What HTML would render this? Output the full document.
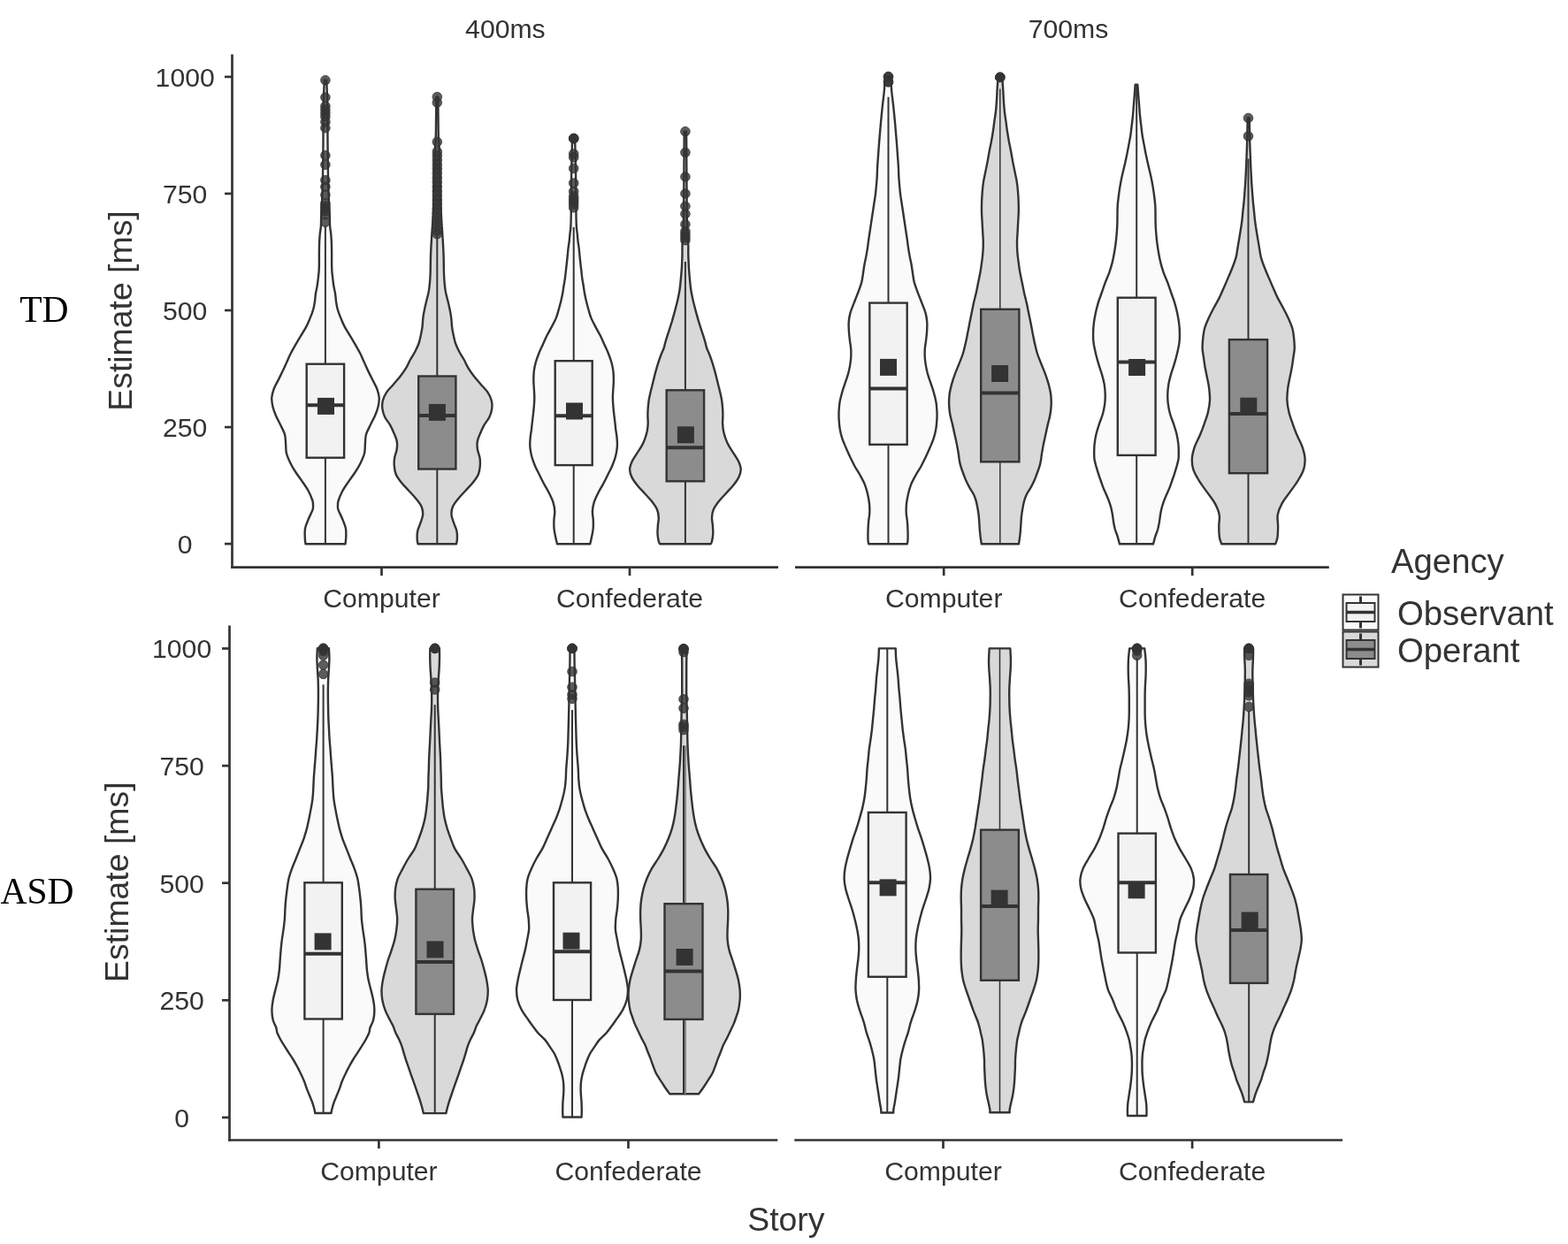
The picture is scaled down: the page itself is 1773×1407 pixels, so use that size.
<!DOCTYPE html>
<html><head><meta charset="utf-8"><title>Violin plot</title>
<style>html,body{margin:0;padding:0;background:#fff;}svg{display:block;}</style>
</head><body>
<svg width="1773" height="1407" viewBox="0 0 1773 1407">
<rect width="1773" height="1407" fill="#ffffff"/>
<line x1="262.5" y1="61.5" x2="262.5" y2="642.9" stroke="#333333" stroke-width="2.7" stroke-linecap="butt"/>
<line x1="261.2" y1="641.6" x2="880.0" y2="641.6" stroke="#333333" stroke-width="2.7" stroke-linecap="butt"/>
<line x1="899.0" y1="641.6" x2="1502.8" y2="641.6" stroke="#333333" stroke-width="2.7" stroke-linecap="butt"/>
<line x1="254.0" y1="615.1" x2="262.5" y2="615.1" stroke="#333333" stroke-width="2.7" stroke-linecap="butt"/>
<text x="209.2" y="626.0" font-family="'Liberation Sans', Arial, sans-serif" font-size="30.2" fill="#333333" text-anchor="middle" >0</text>
<line x1="254.0" y1="483.1" x2="262.5" y2="483.1" stroke="#333333" stroke-width="2.7" stroke-linecap="butt"/>
<text x="209.2" y="493.9" font-family="'Liberation Sans', Arial, sans-serif" font-size="30.2" fill="#333333" text-anchor="middle" >250</text>
<line x1="254.0" y1="351.0" x2="262.5" y2="351.0" stroke="#333333" stroke-width="2.7" stroke-linecap="butt"/>
<text x="209.2" y="361.9" font-family="'Liberation Sans', Arial, sans-serif" font-size="30.2" fill="#333333" text-anchor="middle" >500</text>
<line x1="254.0" y1="219.0" x2="262.5" y2="219.0" stroke="#333333" stroke-width="2.7" stroke-linecap="butt"/>
<text x="209.2" y="229.9" font-family="'Liberation Sans', Arial, sans-serif" font-size="30.2" fill="#333333" text-anchor="middle" >750</text>
<line x1="254.0" y1="86.9" x2="262.5" y2="86.9" stroke="#333333" stroke-width="2.7" stroke-linecap="butt"/>
<text x="209.2" y="97.8" font-family="'Liberation Sans', Arial, sans-serif" font-size="30.2" fill="#333333" text-anchor="middle" >1000</text>
<line x1="431.5" y1="641.6" x2="431.5" y2="651.1" stroke="#333333" stroke-width="2.7" stroke-linecap="butt"/>
<text x="431.5" y="686.6" font-family="'Liberation Sans', Arial, sans-serif" font-size="30.2" fill="#333333" text-anchor="middle" >Computer</text>
<line x1="712.0" y1="641.6" x2="712.0" y2="651.1" stroke="#333333" stroke-width="2.7" stroke-linecap="butt"/>
<text x="712.0" y="686.6" font-family="'Liberation Sans', Arial, sans-serif" font-size="30.2" fill="#333333" text-anchor="middle" >Confederate</text>
<line x1="1067.2" y1="641.6" x2="1067.2" y2="651.1" stroke="#333333" stroke-width="2.7" stroke-linecap="butt"/>
<text x="1067.2" y="686.6" font-family="'Liberation Sans', Arial, sans-serif" font-size="30.2" fill="#333333" text-anchor="middle" >Computer</text>
<line x1="1348.2" y1="641.6" x2="1348.2" y2="651.1" stroke="#333333" stroke-width="2.7" stroke-linecap="butt"/>
<text x="1348.2" y="686.6" font-family="'Liberation Sans', Arial, sans-serif" font-size="30.2" fill="#333333" text-anchor="middle" >Confederate</text>
<line x1="259.5" y1="707.4" x2="259.5" y2="1290.8" stroke="#333333" stroke-width="2.7" stroke-linecap="butt"/>
<line x1="258.2" y1="1289.5" x2="879.3" y2="1289.5" stroke="#333333" stroke-width="2.7" stroke-linecap="butt"/>
<line x1="898.3" y1="1289.5" x2="1518.0" y2="1289.5" stroke="#333333" stroke-width="2.7" stroke-linecap="butt"/>
<line x1="251.0" y1="1263.9" x2="259.5" y2="1263.9" stroke="#333333" stroke-width="2.7" stroke-linecap="butt"/>
<text x="205.6" y="1274.8" font-family="'Liberation Sans', Arial, sans-serif" font-size="30.2" fill="#333333" text-anchor="middle" >0</text>
<line x1="251.0" y1="1131.3" x2="259.5" y2="1131.3" stroke="#333333" stroke-width="2.7" stroke-linecap="butt"/>
<text x="205.6" y="1142.2" font-family="'Liberation Sans', Arial, sans-serif" font-size="30.2" fill="#333333" text-anchor="middle" >250</text>
<line x1="251.0" y1="998.7" x2="259.5" y2="998.7" stroke="#333333" stroke-width="2.7" stroke-linecap="butt"/>
<text x="205.6" y="1009.6" font-family="'Liberation Sans', Arial, sans-serif" font-size="30.2" fill="#333333" text-anchor="middle" >500</text>
<line x1="251.0" y1="866.1" x2="259.5" y2="866.1" stroke="#333333" stroke-width="2.7" stroke-linecap="butt"/>
<text x="205.6" y="877.0" font-family="'Liberation Sans', Arial, sans-serif" font-size="30.2" fill="#333333" text-anchor="middle" >750</text>
<line x1="251.0" y1="733.5" x2="259.5" y2="733.5" stroke="#333333" stroke-width="2.7" stroke-linecap="butt"/>
<text x="205.6" y="744.4" font-family="'Liberation Sans', Arial, sans-serif" font-size="30.2" fill="#333333" text-anchor="middle" >1000</text>
<line x1="428.4" y1="1289.5" x2="428.4" y2="1299.0" stroke="#333333" stroke-width="2.7" stroke-linecap="butt"/>
<text x="428.4" y="1335.0" font-family="'Liberation Sans', Arial, sans-serif" font-size="30.2" fill="#333333" text-anchor="middle" >Computer</text>
<line x1="710.5" y1="1289.5" x2="710.5" y2="1299.0" stroke="#333333" stroke-width="2.7" stroke-linecap="butt"/>
<text x="710.5" y="1335.0" font-family="'Liberation Sans', Arial, sans-serif" font-size="30.2" fill="#333333" text-anchor="middle" >Confederate</text>
<line x1="1066.5" y1="1289.5" x2="1066.5" y2="1299.0" stroke="#333333" stroke-width="2.7" stroke-linecap="butt"/>
<text x="1066.5" y="1335.0" font-family="'Liberation Sans', Arial, sans-serif" font-size="30.2" fill="#333333" text-anchor="middle" >Computer</text>
<line x1="1348.1" y1="1289.5" x2="1348.1" y2="1299.0" stroke="#333333" stroke-width="2.7" stroke-linecap="butt"/>
<text x="1348.1" y="1335.0" font-family="'Liberation Sans', Arial, sans-serif" font-size="30.2" fill="#333333" text-anchor="middle" >Confederate</text>
<path d="M366.8,90.7 C366.7,93.9 366.2,103.5 366.0,110.0 C365.8,116.5 365.6,121.7 365.5,130.0 C365.4,138.3 365.6,148.3 365.5,160.0 C365.4,171.7 365.2,188.3 365.0,200.0 C364.8,211.7 364.3,222.5 364.0,230.0 C363.7,237.5 363.4,240.7 363.2,245.0 C363.0,249.3 363.1,252.4 362.9,255.6 C362.7,258.8 362.1,261.3 361.8,264.1 C361.5,266.9 361.4,269.1 361.2,272.6 C361.0,276.1 360.9,280.7 360.9,285.0 C360.8,289.3 360.9,294.6 360.9,298.2 C360.8,301.8 360.8,303.9 360.6,306.8 C360.4,309.7 360.0,312.5 359.7,315.3 C359.4,318.1 359.1,321.0 358.6,323.8 C358.1,326.6 357.3,329.5 356.9,332.3 C356.5,335.1 356.4,337.9 356.0,340.9 C355.6,343.8 355.1,346.8 354.2,350.0 C353.3,353.2 352.0,356.6 350.6,359.9 C349.2,363.2 347.9,366.6 346.1,369.9 C344.4,373.2 342.1,376.5 340.1,379.8 C338.1,383.1 336.1,386.5 334.2,389.8 C332.3,393.1 330.4,396.4 328.7,399.7 C327.0,403.0 325.7,406.4 324.2,409.7 C322.7,413.0 321.3,416.3 319.7,419.6 C318.1,422.9 316.4,426.3 314.8,429.6 C313.2,432.9 311.1,436.2 309.8,439.5 C308.6,442.8 307.6,446.2 307.3,449.5 C307.1,452.8 307.5,456.0 308.3,459.4 C309.1,462.8 310.4,466.4 311.9,470.0 C313.4,473.6 315.5,477.1 317.2,480.7 C318.9,484.2 321.0,487.8 322.0,491.3 C323.0,494.9 322.8,498.4 323.1,502.0 C323.4,505.6 323.1,509.1 323.9,512.6 C324.7,516.1 326.4,519.7 328.1,523.3 C329.8,526.9 332.0,530.5 334.3,534.0 C336.6,537.5 339.4,541.1 341.8,544.6 C344.2,548.1 346.8,551.7 348.7,555.3 C350.6,558.9 352.4,563.3 353.3,566.0 C354.2,568.7 354.0,569.5 354.0,571.3 C354.0,573.1 354.4,573.9 353.5,576.6 C352.6,579.3 350.1,583.8 348.7,587.3 C347.3,590.8 345.6,594.3 345.0,597.9 C344.4,601.5 344.7,605.7 344.8,608.6 C344.9,611.5 345.4,614.2 345.5,615.3 L390.5,615.3 C390.6,614.2 391.1,611.5 391.2,608.6 C391.3,605.7 391.6,601.5 391.0,597.9 C390.4,594.3 388.7,590.8 387.3,587.3 C385.9,583.8 383.4,579.3 382.5,576.6 C381.6,573.9 382.0,573.1 382.0,571.3 C382.0,569.5 381.8,568.7 382.7,566.0 C383.6,563.3 385.4,558.9 387.3,555.3 C389.2,551.7 391.8,548.1 394.2,544.6 C396.6,541.1 399.4,537.5 401.7,534.0 C404.0,530.5 406.2,526.9 407.9,523.3 C409.6,519.7 411.3,516.1 412.1,512.6 C412.9,509.1 412.6,505.6 412.9,502.0 C413.2,498.4 413.0,494.9 414.0,491.3 C415.0,487.8 417.1,484.2 418.8,480.7 C420.5,477.1 422.6,473.6 424.1,470.0 C425.6,466.4 426.9,462.8 427.7,459.4 C428.5,456.0 428.9,452.8 428.7,449.5 C428.4,446.2 427.4,442.8 426.2,439.5 C424.9,436.2 422.8,432.9 421.2,429.6 C419.6,426.3 417.9,422.9 416.3,419.6 C414.7,416.3 413.3,413.0 411.8,409.7 C410.3,406.4 409.0,403.0 407.3,399.7 C405.6,396.4 403.7,393.1 401.8,389.8 C399.9,386.5 397.9,383.1 395.9,379.8 C393.9,376.5 391.6,373.2 389.9,369.9 C388.1,366.6 386.8,363.2 385.4,359.9 C384.0,356.6 382.7,353.2 381.8,350.0 C380.9,346.8 380.4,343.8 380.0,340.9 C379.6,337.9 379.5,335.1 379.1,332.3 C378.7,329.5 377.9,326.6 377.4,323.8 C376.9,321.0 376.6,318.1 376.3,315.3 C376.0,312.5 375.6,309.7 375.4,306.8 C375.2,303.9 375.2,301.8 375.1,298.2 C375.1,294.6 375.2,289.3 375.1,285.0 C375.1,280.7 375.0,276.1 374.8,272.6 C374.6,269.1 374.5,266.9 374.2,264.1 C373.9,261.3 373.3,258.8 373.1,255.6 C372.9,252.4 373.0,249.3 372.8,245.0 C372.6,240.7 372.3,237.5 372.0,230.0 C371.7,222.5 371.2,211.7 371.0,200.0 C370.8,188.3 370.6,171.7 370.5,160.0 C370.4,148.3 370.6,138.3 370.5,130.0 C370.4,121.7 370.2,116.5 370.0,110.0 C369.8,103.5 369.3,93.9 369.2,90.7 Z" fill="#fafafa" stroke="#333333" stroke-width="2.4" stroke-linejoin="round"/>
<line x1="367.9" y1="255.5" x2="367.9" y2="411.7" stroke="#333333" stroke-width="2.0"/>
<line x1="367.9" y1="517.7" x2="367.9" y2="615.3" stroke="#333333" stroke-width="2.0"/>
<rect x="346.7" y="411.7" width="42.4" height="106.0" fill="#f2f2f2" stroke="#333333" stroke-width="2.4"/>
<line x1="346.7" y1="458.3" x2="389.1" y2="458.3" stroke="#333333" stroke-width="4"/>
<circle cx="367.9" cy="90.7" r="5.3" fill="#333333" fill-opacity="0.8" stroke="#333333" stroke-width="0.8"/>
<circle cx="367.9" cy="110.1" r="5.3" fill="#333333" fill-opacity="0.8" stroke="#333333" stroke-width="0.8"/>
<circle cx="367.9" cy="120.0" r="5.3" fill="#333333" fill-opacity="0.8" stroke="#333333" stroke-width="0.8"/>
<circle cx="367.9" cy="124.0" r="5.3" fill="#333333" fill-opacity="0.8" stroke="#333333" stroke-width="0.8"/>
<circle cx="367.9" cy="128.0" r="5.3" fill="#333333" fill-opacity="0.8" stroke="#333333" stroke-width="0.8"/>
<circle cx="367.9" cy="132.0" r="5.3" fill="#333333" fill-opacity="0.8" stroke="#333333" stroke-width="0.8"/>
<circle cx="367.9" cy="137.9" r="5.3" fill="#333333" fill-opacity="0.8" stroke="#333333" stroke-width="0.8"/>
<circle cx="367.9" cy="144.7" r="5.3" fill="#333333" fill-opacity="0.8" stroke="#333333" stroke-width="0.8"/>
<circle cx="367.9" cy="175.8" r="5.3" fill="#333333" fill-opacity="0.8" stroke="#333333" stroke-width="0.8"/>
<circle cx="367.9" cy="186.3" r="5.3" fill="#333333" fill-opacity="0.8" stroke="#333333" stroke-width="0.8"/>
<circle cx="367.9" cy="203.8" r="5.3" fill="#333333" fill-opacity="0.8" stroke="#333333" stroke-width="0.8"/>
<circle cx="367.9" cy="211.2" r="5.3" fill="#333333" fill-opacity="0.8" stroke="#333333" stroke-width="0.8"/>
<circle cx="367.9" cy="220.5" r="5.3" fill="#333333" fill-opacity="0.8" stroke="#333333" stroke-width="0.8"/>
<circle cx="367.9" cy="230.0" r="5.3" fill="#333333" fill-opacity="0.8" stroke="#333333" stroke-width="0.8"/>
<circle cx="367.9" cy="233.0" r="5.3" fill="#333333" fill-opacity="0.8" stroke="#333333" stroke-width="0.8"/>
<circle cx="367.9" cy="236.0" r="5.3" fill="#333333" fill-opacity="0.8" stroke="#333333" stroke-width="0.8"/>
<circle cx="367.9" cy="239.0" r="5.3" fill="#333333" fill-opacity="0.8" stroke="#333333" stroke-width="0.8"/>
<circle cx="367.9" cy="242.7" r="5.3" fill="#333333" fill-opacity="0.8" stroke="#333333" stroke-width="0.8"/>
<circle cx="367.9" cy="251.3" r="5.3" fill="#333333" fill-opacity="0.8" stroke="#333333" stroke-width="0.8"/>
<rect x="359.0" y="449.9" width="19" height="19" fill="#333333"/>
<path d="M493.3,109.6 C493.3,113.0 493.2,122.6 493.1,130.0 C493.0,137.4 493.0,147.3 492.8,154.0 C492.6,160.7 492.1,162.3 491.8,170.0 C491.5,177.7 491.2,190.0 491.0,200.0 C490.8,210.0 490.6,221.7 490.3,230.0 C490.0,238.3 489.7,243.3 489.3,250.0 C488.9,256.6 488.4,263.3 488.0,269.9 C487.6,276.5 487.2,283.2 487.0,289.8 C486.8,296.4 486.8,304.7 486.6,309.7 C486.4,314.7 486.3,316.3 486.0,319.6 C485.7,322.9 485.4,326.3 484.8,329.6 C484.2,332.9 483.2,336.2 482.4,339.5 C481.6,342.8 480.8,346.2 480.1,349.5 C479.4,352.8 478.8,356.0 478.4,359.4 C478.0,362.8 477.9,366.7 477.5,370.0 C477.1,373.3 476.5,376.1 475.8,379.2 C475.1,382.3 474.6,385.4 473.5,388.5 C472.4,391.6 470.9,394.6 469.3,397.7 C467.7,400.8 465.5,403.9 463.8,407.0 C462.1,410.1 461.1,413.1 459.2,416.2 C457.3,419.3 455.1,422.4 452.7,425.5 C450.3,428.6 447.5,431.6 444.9,434.7 C442.3,437.8 439.0,440.8 437.0,443.9 C435.0,447.0 433.6,450.1 432.8,453.2 C432.0,456.3 432.0,459.3 432.4,462.4 C432.8,465.5 433.7,468.6 435.2,471.7 C436.7,474.8 439.5,477.8 441.2,480.9 C442.9,483.9 444.2,486.9 445.5,490.0 C446.8,493.1 448.3,496.1 448.8,499.2 C449.3,502.3 449.1,505.4 448.6,508.5 C448.2,511.6 446.6,514.6 446.1,517.7 C445.6,520.8 445.6,523.9 445.8,527.0 C446.1,530.1 446.3,533.1 447.6,536.2 C448.9,539.3 451.2,542.4 453.6,545.5 C456.0,548.6 459.2,551.6 462.0,554.7 C464.8,557.8 467.9,560.8 470.3,563.9 C472.8,567.0 475.4,570.1 476.7,573.2 C478.0,576.3 478.3,579.3 478.1,582.4 C477.9,585.5 476.4,588.6 475.4,591.7 C474.4,594.8 472.7,597.8 472.1,600.9 C471.5,604.0 471.6,607.7 471.7,610.1 C471.8,612.5 472.5,614.4 472.6,615.3 L516.0,615.3 C516.1,614.4 516.8,612.5 516.9,610.1 C517.0,607.7 517.1,604.0 516.5,600.9 C515.9,597.8 514.2,594.8 513.2,591.7 C512.2,588.6 510.7,585.5 510.5,582.4 C510.3,579.3 510.6,576.3 511.9,573.2 C513.2,570.1 515.8,567.0 518.3,563.9 C520.8,560.8 523.8,557.8 526.6,554.7 C529.4,551.6 532.6,548.6 535.0,545.5 C537.4,542.4 539.7,539.3 541.0,536.2 C542.3,533.1 542.5,530.1 542.8,527.0 C543.0,523.9 543.0,520.8 542.5,517.7 C542.0,514.6 540.5,511.6 540.0,508.5 C539.5,505.4 539.3,502.3 539.8,499.2 C540.3,496.1 541.8,493.1 543.1,490.0 C544.4,486.9 545.7,483.9 547.4,480.9 C549.1,477.8 551.9,474.8 553.4,471.7 C554.9,468.6 555.8,465.5 556.2,462.4 C556.6,459.3 556.6,456.3 555.8,453.2 C555.0,450.1 553.6,447.0 551.6,443.9 C549.6,440.8 546.3,437.8 543.7,434.7 C541.1,431.6 538.3,428.6 535.9,425.5 C533.5,422.4 531.2,419.3 529.4,416.2 C527.5,413.1 526.5,410.1 524.8,407.0 C523.1,403.9 520.9,400.8 519.3,397.7 C517.7,394.6 516.2,391.6 515.1,388.5 C514.0,385.4 513.5,382.3 512.8,379.2 C512.1,376.1 511.5,373.3 511.1,370.0 C510.7,366.7 510.6,362.8 510.2,359.4 C509.8,356.0 509.2,352.8 508.5,349.5 C507.8,346.2 507.0,342.8 506.2,339.5 C505.4,336.2 504.4,332.9 503.8,329.6 C503.2,326.3 502.9,322.9 502.6,319.6 C502.3,316.3 502.2,314.7 502.0,309.7 C501.8,304.7 501.8,296.4 501.6,289.8 C501.4,283.2 501.0,276.5 500.6,269.9 C500.2,263.3 499.7,256.6 499.3,250.0 C498.9,243.3 498.6,238.3 498.3,230.0 C498.0,221.7 497.9,210.0 497.6,200.0 C497.4,190.0 497.1,177.7 496.8,170.0 C496.5,162.3 496.0,160.7 495.8,154.0 C495.6,147.3 495.6,137.4 495.5,130.0 C495.4,122.6 495.3,113.0 495.3,109.6 Z" fill="#d9d9d9" stroke="#333333" stroke-width="2.4" stroke-linejoin="round"/>
<line x1="494.3" y1="267.0" x2="494.3" y2="425.5" stroke="#333333" stroke-width="2.0"/>
<line x1="494.3" y1="530.5" x2="494.3" y2="615.3" stroke="#333333" stroke-width="2.0"/>
<rect x="473.2" y="425.5" width="42.2" height="105.0" fill="#8c8c8c" stroke="#333333" stroke-width="2.4"/>
<line x1="473.2" y1="469.9" x2="515.4" y2="469.9" stroke="#333333" stroke-width="4"/>
<circle cx="494.3" cy="109.6" r="5.3" fill="#333333" fill-opacity="0.8" stroke="#333333" stroke-width="0.8"/>
<circle cx="494.3" cy="116.0" r="5.3" fill="#333333" fill-opacity="0.8" stroke="#333333" stroke-width="0.8"/>
<circle cx="494.3" cy="160.4" r="5.3" fill="#333333" fill-opacity="0.8" stroke="#333333" stroke-width="0.8"/>
<circle cx="494.3" cy="171.5" r="5.3" fill="#333333" fill-opacity="0.8" stroke="#333333" stroke-width="0.8"/>
<circle cx="494.3" cy="176.0" r="5.3" fill="#333333" fill-opacity="0.8" stroke="#333333" stroke-width="0.8"/>
<circle cx="494.3" cy="181.0" r="5.3" fill="#333333" fill-opacity="0.8" stroke="#333333" stroke-width="0.8"/>
<circle cx="494.3" cy="186.0" r="5.3" fill="#333333" fill-opacity="0.8" stroke="#333333" stroke-width="0.8"/>
<circle cx="494.3" cy="191.0" r="5.3" fill="#333333" fill-opacity="0.8" stroke="#333333" stroke-width="0.8"/>
<circle cx="494.3" cy="196.0" r="5.3" fill="#333333" fill-opacity="0.8" stroke="#333333" stroke-width="0.8"/>
<circle cx="494.3" cy="201.0" r="5.3" fill="#333333" fill-opacity="0.8" stroke="#333333" stroke-width="0.8"/>
<circle cx="494.3" cy="206.0" r="5.3" fill="#333333" fill-opacity="0.8" stroke="#333333" stroke-width="0.8"/>
<circle cx="494.3" cy="211.0" r="5.3" fill="#333333" fill-opacity="0.8" stroke="#333333" stroke-width="0.8"/>
<circle cx="494.3" cy="216.0" r="5.3" fill="#333333" fill-opacity="0.8" stroke="#333333" stroke-width="0.8"/>
<circle cx="494.3" cy="221.0" r="5.3" fill="#333333" fill-opacity="0.8" stroke="#333333" stroke-width="0.8"/>
<circle cx="494.3" cy="226.0" r="5.3" fill="#333333" fill-opacity="0.8" stroke="#333333" stroke-width="0.8"/>
<circle cx="494.3" cy="231.0" r="5.3" fill="#333333" fill-opacity="0.8" stroke="#333333" stroke-width="0.8"/>
<circle cx="494.3" cy="236.0" r="5.3" fill="#333333" fill-opacity="0.8" stroke="#333333" stroke-width="0.8"/>
<circle cx="494.3" cy="241.0" r="5.3" fill="#333333" fill-opacity="0.8" stroke="#333333" stroke-width="0.8"/>
<circle cx="494.3" cy="246.0" r="5.3" fill="#333333" fill-opacity="0.8" stroke="#333333" stroke-width="0.8"/>
<circle cx="494.3" cy="251.0" r="5.3" fill="#333333" fill-opacity="0.8" stroke="#333333" stroke-width="0.8"/>
<circle cx="494.3" cy="256.0" r="5.3" fill="#333333" fill-opacity="0.8" stroke="#333333" stroke-width="0.8"/>
<circle cx="494.3" cy="261.0" r="5.3" fill="#333333" fill-opacity="0.8" stroke="#333333" stroke-width="0.8"/>
<circle cx="494.3" cy="264.8" r="5.3" fill="#333333" fill-opacity="0.8" stroke="#333333" stroke-width="0.8"/>
<rect x="484.9" y="456.9" width="19" height="19" fill="#333333"/>
<path d="M647.1,156.6 C647.0,159.7 646.8,167.8 646.6,175.0 C646.4,182.2 646.2,189.4 646.1,200.0 C646.0,210.6 645.9,229.2 645.8,238.5 C645.7,247.8 645.6,251.3 645.4,255.6 C645.2,259.9 644.8,261.3 644.5,264.1 C644.2,266.9 644.0,269.8 643.7,272.6 C643.4,275.5 642.8,278.4 642.5,281.2 C642.2,284.0 642.0,286.9 641.7,289.7 C641.4,292.5 641.1,295.3 640.8,298.2 C640.5,301.1 640.1,303.9 639.8,306.8 C639.5,309.7 639.2,312.5 638.8,315.3 C638.4,318.1 637.9,321.0 637.4,323.8 C636.9,326.6 636.6,329.5 636.1,332.3 C635.6,335.1 635.0,337.6 634.3,340.5 C633.6,343.4 632.7,346.8 631.8,350.0 C630.9,353.2 630.1,356.6 628.7,359.9 C627.4,363.2 625.4,366.6 623.7,369.9 C622.0,373.2 620.0,376.5 618.3,379.8 C616.7,383.1 615.3,386.5 613.8,389.8 C612.3,393.1 610.6,396.4 609.3,399.7 C608.0,403.0 606.7,406.4 605.8,409.7 C604.9,413.0 604.2,416.3 603.8,419.6 C603.4,422.9 603.3,426.3 603.3,429.6 C603.3,432.9 603.6,436.2 603.8,439.5 C604.0,442.8 604.3,446.2 604.3,449.5 C604.3,452.8 604.1,456.1 603.8,459.4 C603.6,462.7 603.2,466.1 602.8,469.4 C602.4,472.7 601.9,476.6 601.6,479.3 C601.3,482.0 601.3,482.6 601.0,485.3 C600.7,488.0 599.9,492.2 599.6,495.6 C599.3,499.0 599.1,502.5 599.4,505.9 C599.7,509.3 600.3,512.8 601.2,516.2 C602.1,519.6 603.4,523.0 604.8,526.5 C606.2,530.0 608.2,533.4 609.9,536.9 C611.6,540.4 613.3,543.8 615.1,547.2 C616.9,550.6 619.1,554.1 620.8,557.5 C622.5,560.9 624.3,564.4 625.4,567.8 C626.5,571.2 627.1,574.7 627.3,578.1 C627.5,581.5 626.5,585.0 626.4,588.4 C626.3,591.8 626.2,595.3 626.6,598.7 C627.0,602.1 627.9,606.2 628.5,609.0 C629.1,611.8 629.8,614.2 630.0,615.3 L667.2,615.3 C667.5,614.2 668.1,611.8 668.7,609.0 C669.3,606.2 670.2,602.1 670.6,598.7 C671.0,595.3 670.9,591.8 670.8,588.4 C670.7,585.0 669.7,581.5 669.9,578.1 C670.1,574.7 670.7,571.2 671.8,567.8 C672.9,564.4 674.7,560.9 676.4,557.5 C678.1,554.1 680.3,550.6 682.1,547.2 C683.9,543.8 685.6,540.4 687.3,536.9 C689.0,533.4 691.0,530.0 692.4,526.5 C693.8,523.0 695.1,519.6 696.0,516.2 C696.9,512.8 697.5,509.3 697.8,505.9 C698.1,502.5 697.9,499.0 697.6,495.6 C697.3,492.2 696.5,488.0 696.2,485.3 C695.9,482.6 695.9,482.0 695.6,479.3 C695.3,476.6 694.8,472.7 694.4,469.4 C694.0,466.1 693.6,462.7 693.4,459.4 C693.1,456.1 692.9,452.8 692.9,449.5 C692.9,446.2 693.2,442.8 693.4,439.5 C693.6,436.2 693.9,432.9 693.9,429.6 C693.9,426.3 693.8,422.9 693.4,419.6 C693.0,416.3 692.3,413.0 691.4,409.7 C690.5,406.4 689.2,403.0 687.9,399.7 C686.6,396.4 684.9,393.1 683.4,389.8 C681.9,386.5 680.5,383.1 678.9,379.8 C677.2,376.5 675.2,373.2 673.5,369.9 C671.8,366.6 669.9,363.2 668.5,359.9 C667.1,356.6 666.3,353.2 665.4,350.0 C664.5,346.8 663.6,343.4 662.9,340.5 C662.2,337.6 661.6,335.1 661.1,332.3 C660.6,329.5 660.3,326.6 659.8,323.8 C659.4,321.0 658.8,318.1 658.4,315.3 C658.0,312.5 657.7,309.7 657.4,306.8 C657.1,303.9 656.7,301.1 656.4,298.2 C656.1,295.3 655.8,292.5 655.5,289.7 C655.2,286.9 655.0,284.0 654.7,281.2 C654.4,278.4 653.8,275.5 653.5,272.6 C653.2,269.8 653.0,266.9 652.7,264.1 C652.4,261.3 652.0,259.9 651.8,255.6 C651.6,251.3 651.5,247.8 651.4,238.5 C651.3,229.2 651.2,210.6 651.1,200.0 C651.0,189.4 650.8,182.2 650.6,175.0 C650.4,167.8 650.2,159.7 650.1,156.6 Z" fill="#fafafa" stroke="#333333" stroke-width="2.4" stroke-linejoin="round"/>
<line x1="648.7" y1="256.9" x2="648.7" y2="408.2" stroke="#333333" stroke-width="2.0"/>
<line x1="648.7" y1="526.1" x2="648.7" y2="615.3" stroke="#333333" stroke-width="2.0"/>
<rect x="627.7" y="408.2" width="42.0" height="117.9" fill="#f2f2f2" stroke="#333333" stroke-width="2.4"/>
<line x1="627.7" y1="470.3" x2="669.7" y2="470.3" stroke="#333333" stroke-width="4"/>
<circle cx="648.7" cy="156.6" r="5.3" fill="#333333" fill-opacity="0.8" stroke="#333333" stroke-width="0.8"/>
<circle cx="648.7" cy="156.6" r="5.3" fill="#333333" fill-opacity="0.8" stroke="#333333" stroke-width="0.8"/>
<circle cx="648.7" cy="156.6" r="5.3" fill="#333333" fill-opacity="0.8" stroke="#333333" stroke-width="0.8"/>
<circle cx="648.7" cy="174.0" r="5.3" fill="#333333" fill-opacity="0.8" stroke="#333333" stroke-width="0.8"/>
<circle cx="648.7" cy="177.9" r="5.3" fill="#333333" fill-opacity="0.8" stroke="#333333" stroke-width="0.8"/>
<circle cx="648.7" cy="190.5" r="5.3" fill="#333333" fill-opacity="0.8" stroke="#333333" stroke-width="0.8"/>
<circle cx="648.7" cy="207.1" r="5.3" fill="#333333" fill-opacity="0.8" stroke="#333333" stroke-width="0.8"/>
<circle cx="648.7" cy="216.6" r="5.3" fill="#333333" fill-opacity="0.8" stroke="#333333" stroke-width="0.8"/>
<circle cx="648.7" cy="222.0" r="5.3" fill="#333333" fill-opacity="0.8" stroke="#333333" stroke-width="0.8"/>
<circle cx="648.7" cy="225.0" r="5.3" fill="#333333" fill-opacity="0.8" stroke="#333333" stroke-width="0.8"/>
<circle cx="648.7" cy="228.0" r="5.3" fill="#333333" fill-opacity="0.8" stroke="#333333" stroke-width="0.8"/>
<circle cx="648.7" cy="231.0" r="5.3" fill="#333333" fill-opacity="0.8" stroke="#333333" stroke-width="0.8"/>
<circle cx="648.7" cy="234.8" r="5.3" fill="#333333" fill-opacity="0.8" stroke="#333333" stroke-width="0.8"/>
<rect x="640.0" y="455.5" width="19" height="19" fill="#333333"/>
<path d="M773.7,148.7 C773.6,157.2 773.5,183.1 773.4,200.0 C773.3,216.9 773.1,238.2 772.9,250.0 C772.6,261.8 772.1,266.2 771.9,271.0 C771.7,275.8 771.6,275.8 771.5,278.5 C771.4,281.2 771.5,284.2 771.5,287.1 C771.5,290.0 771.3,292.8 771.2,295.6 C771.1,298.4 771.0,301.3 770.8,304.1 C770.6,306.9 770.4,309.8 770.1,312.6 C769.9,315.5 769.6,318.4 769.3,321.2 C769.0,324.0 768.7,326.9 768.2,329.7 C767.7,332.5 767.1,335.3 766.5,338.2 C765.9,341.1 765.1,343.9 764.4,346.8 C763.7,349.7 762.9,352.5 762.1,355.3 C761.3,358.1 760.5,361.0 759.7,363.8 C758.8,366.6 757.9,369.5 757.0,372.3 C756.1,375.1 755.0,378.3 754.2,380.9 C753.4,383.5 752.7,385.9 752.1,388.0 C751.5,390.1 751.5,391.2 750.7,393.5 C749.9,395.8 748.3,399.1 747.2,402.0 C746.1,404.9 745.1,407.8 744.2,410.6 C743.3,413.5 742.5,416.3 741.7,419.1 C740.9,421.9 740.2,424.8 739.5,427.6 C738.8,430.5 738.1,433.4 737.4,436.2 C736.7,439.0 735.9,441.9 735.3,444.7 C734.7,447.5 734.0,450.4 733.6,453.2 C733.2,456.0 732.9,458.8 732.7,461.7 C732.5,464.6 732.4,467.4 732.4,470.3 C732.4,473.2 732.8,476.0 732.7,478.8 C732.6,481.6 732.3,484.5 731.8,487.3 C731.2,490.1 730.4,493.0 729.4,495.8 C728.4,498.6 727.3,501.3 725.7,504.2 C724.1,507.1 721.9,510.1 720.0,513.1 C718.1,516.1 715.9,519.1 714.6,522.1 C713.3,525.1 712.1,528.1 712.1,531.1 C712.1,534.1 713.1,537.1 714.6,540.1 C716.1,543.1 718.5,546.2 720.9,549.2 C723.3,552.2 726.4,555.2 729.1,558.2 C731.8,561.2 734.9,564.2 737.2,567.2 C739.5,570.2 741.7,573.2 743.0,576.2 C744.3,579.2 744.6,582.3 744.8,585.3 C744.9,588.3 744.1,591.3 743.9,594.3 C743.7,597.3 743.4,600.3 743.5,603.3 C743.6,606.3 744.3,610.3 744.8,612.3 C745.2,614.3 746.0,614.8 746.2,615.3 L803.6,615.3 C803.8,614.8 804.5,614.3 805.0,612.3 C805.5,610.3 806.1,606.3 806.3,603.3 C806.4,600.3 806.1,597.3 805.9,594.3 C805.7,591.3 804.9,588.3 805.0,585.3 C805.1,582.3 805.5,579.2 806.8,576.2 C808.1,573.2 810.3,570.2 812.6,567.2 C814.9,564.2 818.0,561.2 820.7,558.2 C823.4,555.2 826.5,552.2 828.9,549.2 C831.3,546.2 833.7,543.1 835.2,540.1 C836.7,537.1 837.7,534.1 837.7,531.1 C837.7,528.1 836.5,525.1 835.2,522.1 C833.9,519.1 831.6,516.1 829.8,513.1 C827.9,510.1 825.7,507.1 824.1,504.2 C822.5,501.3 821.4,498.6 820.4,495.8 C819.4,493.0 818.5,490.1 818.0,487.3 C817.5,484.5 817.2,481.6 817.1,478.8 C817.0,476.0 817.4,473.2 817.4,470.3 C817.4,467.4 817.3,464.6 817.1,461.7 C816.9,458.8 816.6,456.0 816.2,453.2 C815.8,450.4 815.1,447.5 814.5,444.7 C813.9,441.9 813.1,439.0 812.4,436.2 C811.7,433.4 811.0,430.5 810.3,427.6 C809.6,424.8 808.9,421.9 808.1,419.1 C807.3,416.3 806.5,413.5 805.6,410.6 C804.7,407.8 803.7,404.9 802.6,402.0 C801.5,399.1 799.9,395.8 799.1,393.5 C798.3,391.2 798.3,390.1 797.7,388.0 C797.1,385.9 796.4,383.5 795.6,380.9 C794.8,378.3 793.7,375.1 792.8,372.3 C791.9,369.5 791.0,366.6 790.1,363.8 C789.2,361.0 788.5,358.1 787.7,355.3 C786.9,352.5 786.1,349.7 785.4,346.8 C784.7,343.9 783.9,341.1 783.3,338.2 C782.7,335.3 782.1,332.5 781.6,329.7 C781.1,326.9 780.8,324.0 780.5,321.2 C780.2,318.4 779.9,315.5 779.7,312.6 C779.4,309.8 779.2,306.9 779.0,304.1 C778.8,301.3 778.7,298.4 778.6,295.6 C778.5,292.8 778.3,290.0 778.3,287.1 C778.2,284.2 778.4,281.2 778.3,278.5 C778.2,275.8 778.1,275.8 777.9,271.0 C777.7,266.2 777.1,261.8 776.9,250.0 C776.6,238.2 776.5,216.9 776.4,200.0 C776.3,183.1 776.1,157.2 776.1,148.7 Z" fill="#d9d9d9" stroke="#333333" stroke-width="2.4" stroke-linejoin="round"/>
<line x1="774.9" y1="296.0" x2="774.9" y2="441.3" stroke="#333333" stroke-width="2.0"/>
<line x1="774.9" y1="544.3" x2="774.9" y2="615.3" stroke="#333333" stroke-width="2.0"/>
<rect x="753.7" y="441.3" width="42.4" height="103.0" fill="#8c8c8c" stroke="#333333" stroke-width="2.4"/>
<line x1="753.7" y1="506.2" x2="796.1" y2="506.2" stroke="#333333" stroke-width="4"/>
<circle cx="774.9" cy="148.7" r="5.3" fill="#333333" fill-opacity="0.8" stroke="#333333" stroke-width="0.8"/>
<circle cx="774.9" cy="172.4" r="5.3" fill="#333333" fill-opacity="0.8" stroke="#333333" stroke-width="0.8"/>
<circle cx="774.9" cy="200.0" r="5.3" fill="#333333" fill-opacity="0.8" stroke="#333333" stroke-width="0.8"/>
<circle cx="774.9" cy="219.0" r="5.3" fill="#333333" fill-opacity="0.8" stroke="#333333" stroke-width="0.8"/>
<circle cx="774.9" cy="233.2" r="5.3" fill="#333333" fill-opacity="0.8" stroke="#333333" stroke-width="0.8"/>
<circle cx="774.9" cy="241.9" r="5.3" fill="#333333" fill-opacity="0.8" stroke="#333333" stroke-width="0.8"/>
<circle cx="774.9" cy="253.7" r="5.3" fill="#333333" fill-opacity="0.8" stroke="#333333" stroke-width="0.8"/>
<circle cx="774.9" cy="261.6" r="5.3" fill="#333333" fill-opacity="0.8" stroke="#333333" stroke-width="0.8"/>
<circle cx="774.9" cy="265.0" r="5.3" fill="#333333" fill-opacity="0.8" stroke="#333333" stroke-width="0.8"/>
<circle cx="774.9" cy="268.5" r="5.3" fill="#333333" fill-opacity="0.8" stroke="#333333" stroke-width="0.8"/>
<circle cx="774.9" cy="271.7" r="5.3" fill="#333333" fill-opacity="0.8" stroke="#333333" stroke-width="0.8"/>
<rect x="765.9" y="482.3" width="19" height="19" fill="#333333"/>
<path d="M1000.5,86.5 C1000.5,88.2 1000.3,94.1 1000.2,97.0 C1000.1,99.9 1000.1,99.9 999.7,104.0 C999.3,108.1 998.3,115.6 997.7,121.4 C997.1,127.2 996.5,132.9 996.0,138.7 C995.5,144.5 995.0,150.3 994.5,156.1 C994.0,161.9 993.6,167.6 993.2,173.4 C992.8,179.2 992.2,186.3 992.0,190.7 C991.8,195.1 991.9,196.8 991.7,200.0 C991.5,203.2 991.2,206.7 990.9,210.0 C990.6,213.3 990.3,216.6 989.9,219.9 C989.5,223.2 988.9,226.6 988.4,229.9 C987.9,233.2 987.4,236.5 986.9,239.8 C986.4,243.1 985.9,246.5 985.4,249.8 C984.9,253.1 984.4,256.4 983.9,259.7 C983.4,263.0 982.9,266.4 982.4,269.7 C981.9,273.0 981.6,276.3 981.1,279.6 C980.6,282.9 980.0,286.3 979.4,289.6 C978.8,292.9 978.0,296.2 977.4,299.5 C976.8,302.8 976.4,306.2 975.9,309.5 C975.4,312.8 975.1,316.1 974.2,319.4 C973.4,322.7 972.0,326.1 970.8,329.4 C969.6,332.7 968.0,336.7 967.0,339.3 C966.0,341.9 965.7,342.4 964.7,345.0 C963.7,347.6 962.0,351.6 961.2,354.9 C960.4,358.2 959.9,361.6 959.7,364.9 C959.5,368.2 959.7,371.5 959.9,374.8 C960.1,378.1 960.5,381.5 960.9,384.8 C961.3,388.1 962.0,391.4 962.2,394.7 C962.4,398.0 962.4,401.4 962.2,404.7 C962.0,408.0 961.5,411.3 960.9,414.6 C960.3,417.9 959.5,421.3 958.5,424.6 C957.5,427.9 956.3,431.2 955.2,434.5 C954.1,437.8 952.9,441.2 952.0,444.5 C951.1,447.8 950.2,451.1 949.6,454.4 C949.0,457.7 948.8,461.1 948.6,464.4 C948.4,467.7 948.4,470.8 948.6,474.3 C948.8,477.8 949.1,481.8 949.7,485.4 C950.3,489.0 951.2,492.4 952.3,495.9 C953.4,499.4 955.0,502.8 956.5,506.3 C958.0,509.8 959.6,513.3 961.2,516.8 C962.9,520.3 964.5,523.7 966.4,527.2 C968.3,530.7 970.8,534.2 972.7,537.7 C974.6,541.2 976.5,544.6 977.9,548.1 C979.3,551.6 980.2,555.1 981.0,558.6 C981.8,562.1 982.5,565.5 982.9,569.0 C983.3,572.5 983.4,576.0 983.3,579.5 C983.2,583.0 982.4,586.4 982.1,589.9 C981.8,593.4 981.6,596.9 981.5,600.4 C981.4,603.9 981.4,608.3 981.5,610.8 C981.6,613.3 982.2,614.5 982.3,615.3 L1025.7,615.3 C1025.8,614.5 1026.4,613.3 1026.5,610.8 C1026.6,608.3 1026.6,603.9 1026.5,600.4 C1026.4,596.9 1026.2,593.4 1025.9,589.9 C1025.6,586.4 1024.8,583.0 1024.7,579.5 C1024.6,576.0 1024.7,572.5 1025.1,569.0 C1025.5,565.5 1026.2,562.1 1027.0,558.6 C1027.8,555.1 1028.7,551.6 1030.1,548.1 C1031.5,544.6 1033.4,541.2 1035.3,537.7 C1037.2,534.2 1039.7,530.7 1041.6,527.2 C1043.5,523.7 1045.1,520.3 1046.8,516.8 C1048.5,513.3 1050.0,509.8 1051.5,506.3 C1053.0,502.8 1054.6,499.4 1055.7,495.9 C1056.8,492.4 1057.7,489.0 1058.3,485.4 C1058.9,481.8 1059.2,477.8 1059.4,474.3 C1059.6,470.8 1059.6,467.7 1059.4,464.4 C1059.2,461.1 1059.0,457.7 1058.4,454.4 C1057.8,451.1 1056.9,447.8 1056.0,444.5 C1055.1,441.2 1053.9,437.8 1052.8,434.5 C1051.7,431.2 1050.5,427.9 1049.5,424.6 C1048.5,421.3 1047.7,417.9 1047.1,414.6 C1046.5,411.3 1046.0,408.0 1045.8,404.7 C1045.6,401.4 1045.6,398.0 1045.8,394.7 C1046.0,391.4 1046.7,388.1 1047.1,384.8 C1047.5,381.5 1047.9,378.1 1048.1,374.8 C1048.3,371.5 1048.5,368.2 1048.3,364.9 C1048.1,361.6 1047.6,358.2 1046.8,354.9 C1046.0,351.6 1044.3,347.6 1043.3,345.0 C1042.3,342.4 1042.0,341.9 1041.0,339.3 C1040.0,336.7 1038.4,332.7 1037.2,329.4 C1036.0,326.1 1034.7,322.7 1033.8,319.4 C1032.9,316.1 1032.6,312.8 1032.1,309.5 C1031.6,306.2 1031.2,302.8 1030.6,299.5 C1030.0,296.2 1029.2,292.9 1028.6,289.6 C1028.0,286.3 1027.4,282.9 1026.9,279.6 C1026.4,276.3 1026.1,273.0 1025.6,269.7 C1025.1,266.4 1024.6,263.0 1024.1,259.7 C1023.6,256.4 1023.1,253.1 1022.6,249.8 C1022.1,246.5 1021.6,243.1 1021.1,239.8 C1020.6,236.5 1020.1,233.2 1019.6,229.9 C1019.1,226.6 1018.5,223.2 1018.1,219.9 C1017.7,216.6 1017.4,213.3 1017.1,210.0 C1016.8,206.7 1016.5,203.2 1016.3,200.0 C1016.1,196.8 1016.2,195.1 1016.0,190.7 C1015.8,186.3 1015.2,179.2 1014.8,173.4 C1014.4,167.6 1014.0,161.9 1013.5,156.1 C1013.0,150.3 1012.5,144.5 1012.0,138.7 C1011.5,132.9 1010.9,127.2 1010.3,121.4 C1009.7,115.6 1008.7,108.1 1008.3,104.0 C1007.9,99.9 1007.9,99.9 1007.8,97.0 C1007.7,94.1 1007.5,88.2 1007.5,86.5 Z" fill="#fafafa" stroke="#333333" stroke-width="2.4" stroke-linejoin="round"/>
<line x1="1004.5" y1="109.7" x2="1004.5" y2="342.6" stroke="#333333" stroke-width="2.0"/>
<line x1="1004.5" y1="502.8" x2="1004.5" y2="615.3" stroke="#333333" stroke-width="2.0"/>
<rect x="983.3" y="342.6" width="42.4" height="160.2" fill="#f2f2f2" stroke="#333333" stroke-width="2.4"/>
<line x1="983.3" y1="439.5" x2="1025.7" y2="439.5" stroke="#333333" stroke-width="4"/>
<circle cx="1004.5" cy="86.7" r="5.3" fill="#333333" fill-opacity="0.8" stroke="#333333" stroke-width="0.8"/>
<circle cx="1004.5" cy="86.7" r="5.3" fill="#333333" fill-opacity="0.8" stroke="#333333" stroke-width="0.8"/>
<circle cx="1004.5" cy="92.7" r="5.3" fill="#333333" fill-opacity="0.8" stroke="#333333" stroke-width="0.8"/>
<circle cx="1004.5" cy="92.7" r="5.3" fill="#333333" fill-opacity="0.8" stroke="#333333" stroke-width="0.8"/>
<rect x="995.0" y="405.9" width="19" height="19" fill="#333333"/>
<path d="M1129.4,87.4 C1129.2,88.1 1128.6,88.8 1128.3,91.4 C1128.0,94.0 1127.7,99.0 1127.5,102.8 C1127.3,106.6 1127.2,110.3 1126.9,114.1 C1126.7,117.9 1126.4,121.7 1126.0,125.5 C1125.6,129.3 1124.9,133.1 1124.4,136.9 C1123.9,140.7 1123.5,144.5 1122.9,148.3 C1122.3,152.1 1121.7,155.8 1121.0,159.6 C1120.3,163.4 1119.4,167.2 1118.7,171.0 C1118.0,174.8 1117.4,178.6 1116.7,182.4 C1116.0,186.2 1115.2,190.0 1114.4,193.8 C1113.6,197.6 1112.7,201.3 1112.1,205.1 C1111.5,208.9 1111.1,212.7 1110.8,216.5 C1110.5,220.3 1110.2,224.0 1110.1,227.9 C1110.0,231.8 1109.9,236.1 1110.0,240.0 C1110.1,243.9 1110.4,247.6 1110.6,251.4 C1110.8,255.2 1111.0,259.0 1111.2,262.8 C1111.4,266.6 1111.8,270.3 1111.8,274.1 C1111.8,277.9 1111.7,281.7 1111.4,285.5 C1111.1,289.3 1110.6,293.1 1110.1,296.9 C1109.6,300.7 1109.1,304.5 1108.4,308.3 C1107.7,312.1 1106.9,315.8 1106.1,319.6 C1105.3,323.4 1104.7,327.2 1103.8,331.0 C1103.0,334.8 1101.8,338.6 1101.0,342.4 C1100.2,346.2 1099.5,350.0 1098.7,353.8 C1097.9,357.6 1097.2,361.3 1096.4,365.1 C1095.7,368.9 1095.0,372.7 1094.2,376.5 C1093.5,380.3 1092.8,384.1 1091.9,387.9 C1091.0,391.7 1090.2,395.6 1089.0,399.5 C1087.8,403.4 1086.0,407.5 1084.5,411.4 C1083.0,415.3 1081.3,419.0 1079.9,422.8 C1078.5,426.6 1077.2,430.3 1076.2,434.1 C1075.2,437.9 1074.2,441.7 1073.7,445.5 C1073.2,449.3 1073.0,453.1 1073.1,456.9 C1073.2,460.7 1073.6,464.5 1074.2,468.3 C1074.8,472.1 1076.0,475.8 1076.9,479.6 C1077.8,483.4 1078.6,487.2 1079.4,491.0 C1080.2,494.8 1081.2,498.6 1081.9,502.4 C1082.7,506.2 1083.4,510.9 1083.9,513.8 C1084.4,516.7 1084.3,517.6 1084.7,520.0 C1085.1,522.4 1085.7,525.3 1086.5,527.9 C1087.3,530.5 1088.3,533.2 1089.3,535.8 C1090.3,538.4 1091.2,541.1 1092.4,543.7 C1093.6,546.3 1095.0,549.0 1096.4,551.6 C1097.9,554.2 1099.9,556.9 1101.1,559.5 C1102.4,562.1 1103.2,564.8 1103.9,567.4 C1104.6,570.0 1105.0,572.7 1105.5,575.3 C1106.0,577.9 1106.4,580.6 1106.7,583.2 C1107.0,585.8 1107.1,588.5 1107.3,591.1 C1107.5,593.7 1107.6,596.4 1107.8,599.0 C1108.0,601.6 1108.3,604.2 1108.6,606.9 C1108.9,609.6 1109.6,613.9 1109.8,615.3 L1152.0,615.3 C1152.2,613.9 1152.9,609.6 1153.2,606.9 C1153.5,604.2 1153.8,601.6 1154.0,599.0 C1154.2,596.4 1154.3,593.7 1154.5,591.1 C1154.7,588.5 1154.8,585.8 1155.1,583.2 C1155.4,580.6 1155.8,577.9 1156.3,575.3 C1156.8,572.7 1157.2,570.0 1157.9,567.4 C1158.6,564.8 1159.5,562.1 1160.7,559.5 C1162.0,556.9 1164.0,554.2 1165.4,551.6 C1166.9,549.0 1168.2,546.3 1169.4,543.7 C1170.6,541.1 1171.5,538.4 1172.5,535.8 C1173.5,533.2 1174.5,530.5 1175.3,527.9 C1176.1,525.3 1176.7,522.4 1177.1,520.0 C1177.5,517.6 1177.4,516.7 1177.9,513.8 C1178.4,510.9 1179.2,506.2 1179.9,502.4 C1180.7,498.6 1181.6,494.8 1182.4,491.0 C1183.2,487.2 1184.0,483.4 1184.9,479.6 C1185.8,475.8 1187.0,472.1 1187.6,468.3 C1188.2,464.5 1188.6,460.7 1188.7,456.9 C1188.8,453.1 1188.6,449.3 1188.1,445.5 C1187.6,441.7 1186.6,437.9 1185.6,434.1 C1184.6,430.3 1183.3,426.6 1181.9,422.8 C1180.5,419.0 1178.8,415.3 1177.3,411.4 C1175.8,407.5 1174.0,403.4 1172.8,399.5 C1171.6,395.6 1170.8,391.7 1169.9,387.9 C1169.0,384.1 1168.4,380.3 1167.6,376.5 C1166.9,372.7 1166.2,368.9 1165.4,365.1 C1164.7,361.3 1163.9,357.6 1163.1,353.8 C1162.3,350.0 1161.7,346.2 1160.8,342.4 C1160.0,338.6 1158.8,334.8 1158.0,331.0 C1157.2,327.2 1156.5,323.4 1155.7,319.6 C1154.9,315.8 1154.1,312.1 1153.4,308.3 C1152.7,304.5 1152.2,300.7 1151.7,296.9 C1151.2,293.1 1150.7,289.3 1150.4,285.5 C1150.1,281.7 1150.0,277.9 1150.0,274.1 C1150.0,270.3 1150.4,266.6 1150.6,262.8 C1150.8,259.0 1151.0,255.2 1151.2,251.4 C1151.4,247.6 1151.7,243.9 1151.8,240.0 C1151.9,236.1 1151.8,231.8 1151.7,227.9 C1151.6,224.0 1151.3,220.3 1151.0,216.5 C1150.7,212.7 1150.3,208.9 1149.7,205.1 C1149.1,201.3 1148.2,197.6 1147.4,193.8 C1146.6,190.0 1145.8,186.2 1145.1,182.4 C1144.4,178.6 1143.8,174.8 1143.1,171.0 C1142.4,167.2 1141.5,163.4 1140.8,159.6 C1140.1,155.8 1139.5,152.1 1138.9,148.3 C1138.3,144.5 1137.9,140.7 1137.4,136.9 C1136.9,133.1 1136.2,129.3 1135.8,125.5 C1135.4,121.7 1135.2,117.9 1134.9,114.1 C1134.7,110.3 1134.5,106.6 1134.3,102.8 C1134.1,99.0 1133.8,94.0 1133.5,91.4 C1133.2,88.8 1132.6,88.1 1132.4,87.4 Z" fill="#d9d9d9" stroke="#333333" stroke-width="2.4" stroke-linejoin="round"/>
<line x1="1130.8" y1="100.5" x2="1130.8" y2="349.8" stroke="#333333" stroke-width="1.5"/>
<line x1="1130.8" y1="522.3" x2="1130.8" y2="615.3" stroke="#333333" stroke-width="1.5"/>
<rect x="1109.2" y="349.8" width="43.2" height="172.5" fill="#8c8c8c" stroke="#333333" stroke-width="2.4"/>
<line x1="1109.2" y1="444.4" x2="1152.4" y2="444.4" stroke="#333333" stroke-width="4"/>
<circle cx="1130.8" cy="87.4" r="5.3" fill="#333333" fill-opacity="0.8" stroke="#333333" stroke-width="0.8"/>
<circle cx="1130.8" cy="87.4" r="5.3" fill="#333333" fill-opacity="0.8" stroke="#333333" stroke-width="0.8"/>
<circle cx="1130.8" cy="87.4" r="5.3" fill="#333333" fill-opacity="0.8" stroke="#333333" stroke-width="0.8"/>
<rect x="1121.1" y="413.0" width="19" height="19" fill="#333333"/>
<path d="M1283.7,95.8 C1283.5,97.8 1283.1,103.9 1282.8,107.8 C1282.5,111.7 1282.2,115.3 1281.9,119.1 C1281.6,122.9 1281.4,126.7 1281.0,130.5 C1280.6,134.3 1280.2,138.1 1279.7,141.9 C1279.2,145.7 1278.9,149.5 1278.3,153.3 C1277.7,157.1 1276.9,160.8 1276.2,164.6 C1275.5,168.4 1274.8,172.2 1274.0,176.0 C1273.2,179.8 1272.4,183.6 1271.5,187.4 C1270.6,191.2 1269.6,195.0 1268.8,198.8 C1268.0,202.6 1267.2,206.3 1266.6,210.1 C1265.9,213.9 1265.4,217.7 1264.9,221.5 C1264.4,225.3 1263.9,229.5 1263.7,232.9 C1263.5,236.3 1263.5,238.9 1263.5,242.0 C1263.5,245.1 1263.5,247.9 1263.4,251.4 C1263.3,254.9 1263.1,259.0 1262.8,262.8 C1262.5,266.6 1262.2,270.3 1261.7,274.1 C1261.2,277.9 1260.7,281.7 1260.0,285.5 C1259.3,289.3 1258.7,293.1 1257.7,296.9 C1256.8,300.7 1255.6,304.5 1254.3,308.3 C1253.0,312.1 1251.1,315.8 1249.7,319.6 C1248.3,323.4 1247.1,327.2 1245.8,331.0 C1244.5,334.8 1242.9,338.6 1241.8,342.4 C1240.7,346.2 1239.7,350.0 1238.9,353.8 C1238.1,357.6 1237.4,361.3 1236.9,365.1 C1236.4,368.9 1236.1,372.7 1236.1,376.5 C1236.0,380.3 1236.1,384.1 1236.6,387.9 C1237.1,391.7 1238.0,395.6 1238.9,399.5 C1239.8,403.4 1240.9,407.5 1242.1,411.4 C1243.2,415.3 1244.7,419.0 1245.8,422.8 C1246.9,426.6 1247.9,430.3 1248.6,434.1 C1249.2,437.9 1249.6,441.7 1249.7,445.5 C1249.8,449.3 1249.7,453.1 1249.2,456.9 C1248.7,460.7 1248.0,464.5 1246.9,468.3 C1245.9,472.1 1244.1,475.8 1242.9,479.6 C1241.7,483.4 1240.4,487.2 1239.5,491.0 C1238.6,494.8 1238.0,498.6 1237.6,502.4 C1237.2,506.2 1237.2,510.9 1237.2,513.8 C1237.2,516.7 1237.2,517.6 1237.6,520.0 C1238.0,522.4 1238.9,525.3 1239.6,527.9 C1240.3,530.5 1241.2,533.2 1242.0,535.8 C1242.8,538.4 1243.8,541.1 1244.7,543.7 C1245.6,546.3 1246.5,549.0 1247.5,551.6 C1248.5,554.2 1249.9,556.9 1251.0,559.5 C1252.1,562.1 1253.3,564.8 1254.2,567.4 C1255.1,570.0 1255.9,572.7 1256.6,575.3 C1257.2,577.9 1257.7,580.6 1258.1,583.2 C1258.5,585.8 1258.7,588.5 1259.2,591.1 C1259.7,593.7 1260.2,596.4 1260.9,599.0 C1261.7,601.6 1262.9,604.2 1263.7,606.9 C1264.5,609.6 1265.6,613.9 1266.0,615.3 L1304.0,615.3 C1304.4,613.9 1305.5,609.6 1306.3,606.9 C1307.1,604.2 1308.3,601.6 1309.1,599.0 C1309.8,596.4 1310.3,593.7 1310.8,591.1 C1311.3,588.5 1311.5,585.8 1311.9,583.2 C1312.3,580.6 1312.8,577.9 1313.4,575.3 C1314.1,572.7 1314.9,570.0 1315.8,567.4 C1316.7,564.8 1317.9,562.1 1319.0,559.5 C1320.1,556.9 1321.5,554.2 1322.5,551.6 C1323.5,549.0 1324.4,546.3 1325.3,543.7 C1326.2,541.1 1327.2,538.4 1328.0,535.8 C1328.8,533.2 1329.7,530.5 1330.4,527.9 C1331.1,525.3 1332.0,522.4 1332.4,520.0 C1332.8,517.6 1332.8,516.7 1332.8,513.8 C1332.8,510.9 1332.8,506.2 1332.4,502.4 C1332.0,498.6 1331.4,494.8 1330.5,491.0 C1329.6,487.2 1328.3,483.4 1327.1,479.6 C1325.9,475.8 1324.1,472.1 1323.1,468.3 C1322.0,464.5 1321.3,460.7 1320.8,456.9 C1320.3,453.1 1320.2,449.3 1320.3,445.5 C1320.4,441.7 1320.8,437.9 1321.4,434.1 C1322.1,430.3 1323.1,426.6 1324.2,422.8 C1325.3,419.0 1326.8,415.3 1327.9,411.4 C1329.1,407.5 1330.2,403.4 1331.1,399.5 C1332.0,395.6 1332.9,391.7 1333.4,387.9 C1333.9,384.1 1334.0,380.3 1333.9,376.5 C1333.9,372.7 1333.6,368.9 1333.1,365.1 C1332.6,361.3 1331.9,357.6 1331.1,353.8 C1330.3,350.0 1329.3,346.2 1328.2,342.4 C1327.1,338.6 1325.5,334.8 1324.2,331.0 C1322.9,327.2 1321.7,323.4 1320.3,319.6 C1318.9,315.8 1317.0,312.1 1315.7,308.3 C1314.4,304.5 1313.2,300.7 1312.3,296.9 C1311.3,293.1 1310.7,289.3 1310.0,285.5 C1309.3,281.7 1308.8,277.9 1308.3,274.1 C1307.8,270.3 1307.5,266.6 1307.2,262.8 C1306.9,259.0 1306.7,254.9 1306.6,251.4 C1306.5,247.9 1306.5,245.1 1306.5,242.0 C1306.5,238.9 1306.5,236.3 1306.3,232.9 C1306.1,229.5 1305.6,225.3 1305.1,221.5 C1304.6,217.7 1304.1,213.9 1303.4,210.1 C1302.8,206.3 1302.0,202.6 1301.2,198.8 C1300.4,195.0 1299.4,191.2 1298.5,187.4 C1297.6,183.6 1296.8,179.8 1296.0,176.0 C1295.2,172.2 1294.5,168.4 1293.8,164.6 C1293.1,160.8 1292.3,157.1 1291.7,153.3 C1291.1,149.5 1290.8,145.7 1290.3,141.9 C1289.8,138.1 1289.4,134.3 1289.0,130.5 C1288.6,126.7 1288.4,122.9 1288.1,119.1 C1287.8,115.3 1287.5,111.7 1287.2,107.8 C1286.9,103.9 1286.5,97.8 1286.3,95.8 Z" fill="#fafafa" stroke="#333333" stroke-width="2.4" stroke-linejoin="round"/>
<line x1="1285.2" y1="95.8" x2="1285.2" y2="336.7" stroke="#333333" stroke-width="2.0"/>
<line x1="1285.2" y1="514.9" x2="1285.2" y2="615.3" stroke="#333333" stroke-width="2.0"/>
<rect x="1263.8" y="336.7" width="42.8" height="178.2" fill="#f2f2f2" stroke="#333333" stroke-width="2.4"/>
<line x1="1263.8" y1="409.6" x2="1306.6" y2="409.6" stroke="#333333" stroke-width="4"/>
<rect x="1276.1" y="406.0" width="19" height="19" fill="#333333"/>
<path d="M1410.7,133.5 C1410.6,137.8 1410.4,151.0 1410.2,159.1 C1410.0,167.2 1409.6,176.2 1409.4,181.9 C1409.2,187.6 1409.1,189.5 1408.9,193.3 C1408.7,197.1 1408.5,200.8 1408.3,204.6 C1408.1,208.4 1407.8,212.2 1407.5,216.0 C1407.2,219.8 1407.0,223.6 1406.6,227.4 C1406.3,231.2 1405.8,235.0 1405.4,238.8 C1405.0,242.6 1404.8,246.3 1404.3,250.1 C1403.8,253.9 1403.2,257.7 1402.6,261.5 C1402.0,265.3 1401.3,269.5 1400.7,272.9 C1400.1,276.3 1399.7,278.9 1399.2,282.0 C1398.7,285.1 1398.5,287.9 1397.5,291.4 C1396.5,294.9 1395.0,299.0 1393.5,302.8 C1392.0,306.6 1390.3,310.3 1388.7,314.1 C1387.1,317.9 1385.5,321.7 1383.8,325.5 C1382.1,329.3 1380.6,333.1 1378.7,336.9 C1376.8,340.7 1374.5,344.5 1372.5,348.3 C1370.5,352.1 1368.5,355.8 1366.8,359.6 C1365.1,363.4 1363.3,367.2 1362.2,371.0 C1361.1,374.8 1360.7,378.6 1360.3,382.4 C1359.9,386.2 1359.5,390.0 1359.6,393.8 C1359.7,397.6 1360.6,401.3 1361.1,405.1 C1361.6,408.9 1362.1,412.7 1362.8,416.5 C1363.5,420.3 1364.4,424.1 1365.1,427.9 C1365.8,431.7 1366.7,435.1 1367.2,439.3 C1367.7,443.5 1368.2,448.5 1368.0,452.9 C1367.8,457.3 1367.0,461.6 1366.0,465.9 C1365.0,470.2 1363.4,474.5 1361.9,478.8 C1360.4,483.1 1358.8,487.5 1357.0,491.8 C1355.2,496.1 1352.6,500.4 1351.1,504.7 C1349.6,509.0 1348.2,513.3 1347.9,517.6 C1347.6,521.9 1347.9,526.3 1349.2,530.6 C1350.5,534.9 1353.1,539.2 1355.7,543.5 C1358.3,547.8 1361.7,552.1 1364.7,556.4 C1367.7,560.7 1371.5,565.1 1373.8,569.4 C1376.1,573.7 1378.0,578.0 1378.7,582.3 C1379.5,586.6 1378.2,591.0 1378.3,595.3 C1378.3,599.6 1378.5,604.9 1379.0,608.2 C1379.5,611.5 1380.9,614.1 1381.3,615.3 L1442.1,615.3 C1442.5,614.1 1443.9,611.5 1444.4,608.2 C1444.9,604.9 1445.1,599.6 1445.1,595.3 C1445.2,591.0 1444.0,586.6 1444.7,582.3 C1445.5,578.0 1447.3,573.7 1449.6,569.4 C1451.9,565.1 1455.7,560.7 1458.7,556.4 C1461.7,552.1 1465.1,547.8 1467.7,543.5 C1470.3,539.2 1472.9,534.9 1474.2,530.6 C1475.5,526.3 1475.8,521.9 1475.5,517.6 C1475.2,513.3 1473.8,509.0 1472.3,504.7 C1470.8,500.4 1468.2,496.1 1466.4,491.8 C1464.6,487.5 1463.0,483.1 1461.5,478.8 C1460.0,474.5 1458.4,470.2 1457.4,465.9 C1456.4,461.6 1455.6,457.3 1455.4,452.9 C1455.2,448.5 1455.7,443.5 1456.2,439.3 C1456.7,435.1 1457.6,431.7 1458.3,427.9 C1459.0,424.1 1459.9,420.3 1460.6,416.5 C1461.3,412.7 1461.8,408.9 1462.3,405.1 C1462.8,401.3 1463.7,397.6 1463.8,393.8 C1463.9,390.0 1463.5,386.2 1463.1,382.4 C1462.7,378.6 1462.3,374.8 1461.2,371.0 C1460.1,367.2 1458.3,363.4 1456.6,359.6 C1454.9,355.8 1452.9,352.1 1450.9,348.3 C1448.9,344.5 1446.6,340.7 1444.7,336.9 C1442.8,333.1 1441.3,329.3 1439.6,325.5 C1437.9,321.7 1436.3,317.9 1434.7,314.1 C1433.1,310.3 1431.4,306.6 1429.9,302.8 C1428.4,299.0 1426.9,294.9 1425.9,291.4 C1425.0,287.9 1424.7,285.1 1424.2,282.0 C1423.7,278.9 1423.3,276.3 1422.7,272.9 C1422.1,269.5 1421.4,265.3 1420.8,261.5 C1420.2,257.7 1419.6,253.9 1419.1,250.1 C1418.6,246.3 1418.4,242.6 1418.0,238.8 C1417.6,235.0 1417.1,231.2 1416.8,227.4 C1416.5,223.6 1416.2,219.8 1415.9,216.0 C1415.6,212.2 1415.3,208.4 1415.1,204.6 C1414.9,200.8 1414.7,197.1 1414.5,193.3 C1414.3,189.5 1414.2,187.6 1414.0,181.9 C1413.8,176.2 1413.4,167.2 1413.2,159.1 C1413.0,151.0 1412.8,137.8 1412.7,133.5 Z" fill="#d9d9d9" stroke="#333333" stroke-width="2.4" stroke-linejoin="round"/>
<line x1="1411.5" y1="179.6" x2="1411.5" y2="384.1" stroke="#333333" stroke-width="2.0"/>
<line x1="1411.5" y1="535.2" x2="1411.5" y2="615.3" stroke="#333333" stroke-width="2.0"/>
<rect x="1389.9" y="384.1" width="43.2" height="151.1" fill="#8c8c8c" stroke="#333333" stroke-width="2.4"/>
<line x1="1389.9" y1="468.1" x2="1433.1" y2="468.1" stroke="#333333" stroke-width="4"/>
<circle cx="1411.5" cy="133.5" r="5.3" fill="#333333" fill-opacity="0.8" stroke="#333333" stroke-width="0.8"/>
<circle cx="1411.5" cy="154.0" r="5.3" fill="#333333" fill-opacity="0.8" stroke="#333333" stroke-width="0.8"/>
<rect x="1402.3" y="449.7" width="19" height="19" fill="#333333"/>
<path d="M358.9,733.3 C358.8,735.2 358.4,741.0 358.4,744.8 C358.4,748.6 358.7,752.3 358.9,756.1 C359.1,759.9 359.4,763.7 359.6,767.5 C359.8,771.3 359.8,775.1 359.9,778.9 C359.9,782.7 359.9,786.5 359.9,790.3 C359.9,794.1 359.8,797.8 359.7,801.6 C359.6,805.4 359.5,809.2 359.4,813.0 C359.2,816.8 359.0,820.6 358.8,824.4 C358.6,828.2 358.4,832.0 358.2,835.8 C357.9,839.6 357.6,843.3 357.3,847.1 C357.0,850.9 356.8,854.7 356.5,858.5 C356.2,862.3 355.9,866.2 355.6,869.9 C355.3,873.6 355.0,876.9 354.8,880.5 C354.6,884.1 354.5,887.7 354.3,891.4 C354.1,895.1 353.9,899.0 353.5,902.8 C353.1,906.6 352.4,910.3 351.7,914.1 C351.0,917.9 350.3,921.7 349.5,925.5 C348.7,929.3 348.0,933.1 347.0,936.9 C346.0,940.7 344.9,944.5 343.6,948.3 C342.3,952.1 340.7,955.8 339.2,959.6 C337.7,963.4 336.2,967.2 334.7,971.0 C333.2,974.8 331.5,978.6 330.1,982.4 C328.7,986.2 327.4,990.0 326.5,993.8 C325.6,997.6 325.2,1001.3 324.7,1005.1 C324.2,1008.9 323.7,1012.7 323.3,1016.5 C322.9,1020.3 322.6,1024.1 322.4,1027.9 C322.2,1031.7 322.2,1035.6 321.9,1039.5 C321.6,1043.4 321.0,1047.5 320.5,1051.4 C320.0,1055.3 319.3,1059.0 318.8,1062.8 C318.3,1066.6 317.9,1070.3 317.6,1074.1 C317.2,1077.9 317.0,1081.7 316.7,1085.5 C316.4,1089.3 316.3,1093.1 315.9,1096.9 C315.5,1100.7 314.9,1104.5 314.2,1108.3 C313.4,1112.1 312.3,1115.8 311.4,1119.6 C310.5,1123.4 309.4,1127.2 308.7,1131.0 C308.0,1134.8 307.4,1138.6 307.4,1142.4 C307.4,1146.2 307.9,1150.5 308.7,1153.8 C309.5,1157.1 311.4,1159.7 312.2,1162.0 C313.0,1164.3 312.6,1165.6 313.4,1167.9 C314.2,1170.2 315.8,1173.2 317.2,1175.8 C318.6,1178.4 320.4,1181.1 322.0,1183.7 C323.6,1186.3 325.4,1189.0 327.1,1191.6 C328.8,1194.2 330.6,1196.9 332.2,1199.5 C333.8,1202.1 335.2,1204.8 336.6,1207.4 C338.0,1210.0 339.2,1212.7 340.5,1215.3 C341.8,1217.9 343.0,1220.6 344.1,1223.2 C345.1,1225.8 345.8,1228.5 346.8,1231.1 C347.8,1233.7 348.9,1236.4 350.0,1239.0 C351.1,1241.6 352.3,1244.3 353.2,1246.9 C354.1,1249.5 355.0,1252.8 355.5,1254.8 C356.0,1256.8 356.2,1258.3 356.3,1259.0 L374.5,1259.0 C374.6,1258.3 374.8,1256.8 375.3,1254.8 C375.8,1252.8 376.7,1249.5 377.6,1246.9 C378.5,1244.3 379.7,1241.6 380.8,1239.0 C381.9,1236.4 383.0,1233.7 384.0,1231.1 C385.0,1228.5 385.6,1225.8 386.7,1223.2 C387.8,1220.6 389.0,1217.9 390.3,1215.3 C391.5,1212.7 392.8,1210.0 394.2,1207.4 C395.6,1204.8 397.0,1202.1 398.6,1199.5 C400.2,1196.9 402.0,1194.2 403.7,1191.6 C405.4,1189.0 407.1,1186.3 408.8,1183.7 C410.4,1181.1 412.2,1178.4 413.6,1175.8 C415.0,1173.2 416.6,1170.2 417.4,1167.9 C418.2,1165.6 417.8,1164.3 418.6,1162.0 C419.4,1159.7 421.3,1157.1 422.1,1153.8 C422.9,1150.5 423.4,1146.2 423.4,1142.4 C423.4,1138.6 422.8,1134.8 422.1,1131.0 C421.4,1127.2 420.3,1123.4 419.4,1119.6 C418.5,1115.8 417.3,1112.1 416.6,1108.3 C415.8,1104.5 415.3,1100.7 414.9,1096.9 C414.5,1093.1 414.4,1089.3 414.1,1085.5 C413.8,1081.7 413.5,1077.9 413.2,1074.1 C412.9,1070.3 412.5,1066.6 412.0,1062.8 C411.5,1059.0 410.8,1055.3 410.3,1051.4 C409.8,1047.5 409.2,1043.4 408.9,1039.5 C408.6,1035.6 408.6,1031.7 408.4,1027.9 C408.2,1024.1 407.9,1020.3 407.5,1016.5 C407.1,1012.7 406.6,1008.9 406.1,1005.1 C405.6,1001.3 405.2,997.6 404.3,993.8 C403.4,990.0 402.1,986.2 400.7,982.4 C399.3,978.6 397.6,974.8 396.1,971.0 C394.6,967.2 393.1,963.4 391.6,959.6 C390.1,955.8 388.5,952.1 387.2,948.3 C385.9,944.5 384.8,940.7 383.8,936.9 C382.8,933.1 382.1,929.3 381.3,925.5 C380.5,921.7 379.8,917.9 379.1,914.1 C378.4,910.3 377.7,906.6 377.3,902.8 C376.9,899.0 376.7,895.1 376.5,891.4 C376.3,887.7 376.2,884.1 376.0,880.5 C375.8,876.9 375.5,873.6 375.2,869.9 C374.9,866.2 374.6,862.3 374.3,858.5 C374.0,854.7 373.8,850.9 373.5,847.1 C373.2,843.3 372.8,839.6 372.6,835.8 C372.3,832.0 372.2,828.2 372.0,824.4 C371.8,820.6 371.5,816.8 371.4,813.0 C371.2,809.2 371.2,805.4 371.1,801.6 C371.0,797.8 370.9,794.1 370.9,790.3 C370.9,786.5 370.8,782.7 370.9,778.9 C370.9,775.1 371.0,771.3 371.2,767.5 C371.4,763.7 371.7,759.9 371.9,756.1 C372.1,752.3 372.4,748.6 372.4,744.8 C372.4,741.0 372.0,735.2 371.9,733.3 Z" fill="#fafafa" stroke="#333333" stroke-width="2.4" stroke-linejoin="round"/>
<line x1="365.6" y1="774.3" x2="365.6" y2="998.3" stroke="#333333" stroke-width="2.0"/>
<line x1="365.6" y1="1152.5" x2="365.6" y2="1259.0" stroke="#333333" stroke-width="2.0"/>
<rect x="344.4" y="998.3" width="42.4" height="154.2" fill="#f2f2f2" stroke="#333333" stroke-width="2.4"/>
<line x1="344.4" y1="1078.8" x2="386.8" y2="1078.8" stroke="#333333" stroke-width="4"/>
<circle cx="365.6" cy="733.3" r="5.3" fill="#333333" fill-opacity="0.8" stroke="#333333" stroke-width="0.8"/>
<circle cx="365.6" cy="733.3" r="5.3" fill="#333333" fill-opacity="0.8" stroke="#333333" stroke-width="0.8"/>
<circle cx="365.6" cy="734.5" r="5.3" fill="#333333" fill-opacity="0.8" stroke="#333333" stroke-width="0.8"/>
<circle cx="365.6" cy="736.5" r="5.3" fill="#333333" fill-opacity="0.8" stroke="#333333" stroke-width="0.8"/>
<circle cx="365.6" cy="741.3" r="5.3" fill="#333333" fill-opacity="0.8" stroke="#333333" stroke-width="0.8"/>
<circle cx="365.6" cy="752.1" r="5.3" fill="#333333" fill-opacity="0.8" stroke="#333333" stroke-width="0.8"/>
<circle cx="365.6" cy="762.4" r="5.3" fill="#333333" fill-opacity="0.8" stroke="#333333" stroke-width="0.8"/>
<rect x="355.6" y="1055.4" width="19" height="19" fill="#333333"/>
<path d="M486.3,733.4 C486.3,735.3 486.2,741.0 486.2,744.8 C486.3,748.6 486.4,752.3 486.6,756.1 C486.8,759.9 487.2,763.7 487.4,767.5 C487.6,771.3 487.9,775.1 488.0,778.9 C488.1,782.7 488.2,786.5 488.2,790.3 C488.2,794.1 488.1,797.8 488.0,801.6 C487.9,805.4 487.6,809.2 487.4,813.0 C487.2,816.8 487.0,820.6 486.8,824.4 C486.6,828.2 486.5,832.0 486.3,835.8 C486.1,839.6 485.9,843.3 485.7,847.1 C485.5,850.9 485.2,854.7 485.1,858.5 C485.0,862.3 484.9,866.2 484.8,869.9 C484.7,873.6 484.5,876.9 484.4,880.5 C484.3,884.1 484.4,887.7 484.2,891.4 C484.0,895.1 483.6,899.0 483.3,902.8 C483.0,906.6 482.7,910.3 482.2,914.1 C481.7,917.9 481.3,921.7 480.5,925.5 C479.7,929.3 478.8,933.1 477.6,936.9 C476.5,940.7 475.0,944.5 473.6,948.3 C472.2,952.1 471.1,955.8 469.1,959.6 C467.1,963.4 464.0,967.2 461.7,971.0 C459.4,974.8 457.4,978.6 455.4,982.4 C453.4,986.2 451.1,990.0 449.7,993.8 C448.3,997.6 447.6,1001.3 447.1,1005.1 C446.6,1008.9 446.6,1012.7 446.7,1016.5 C446.9,1020.3 447.6,1024.1 448.0,1027.9 C448.4,1031.7 449.2,1035.6 449.2,1039.5 C449.3,1043.4 448.8,1047.5 448.3,1051.4 C447.8,1055.3 447.2,1059.0 446.3,1062.8 C445.4,1066.6 444.1,1070.3 442.9,1074.1 C441.7,1077.9 440.1,1081.7 438.9,1085.5 C437.7,1089.3 436.7,1093.1 435.7,1096.9 C434.7,1100.7 433.7,1104.5 433.0,1108.3 C432.3,1112.1 431.6,1115.8 431.5,1119.6 C431.4,1123.4 431.6,1127.2 432.3,1131.0 C433.0,1134.8 434.1,1138.6 435.5,1142.4 C436.9,1146.2 439.5,1150.9 441.0,1153.8 C442.5,1156.7 443.2,1157.7 444.3,1160.0 C445.4,1162.3 446.1,1165.3 447.3,1167.9 C448.5,1170.5 450.1,1173.2 451.3,1175.8 C452.5,1178.4 453.6,1181.1 454.5,1183.7 C455.4,1186.3 456.0,1189.0 456.8,1191.6 C457.6,1194.2 458.3,1196.9 459.2,1199.5 C460.1,1202.1 461.1,1204.8 462.0,1207.4 C462.9,1210.0 463.8,1212.7 464.7,1215.3 C465.6,1217.9 466.6,1220.6 467.5,1223.2 C468.4,1225.8 469.4,1228.5 470.3,1231.1 C471.2,1233.7 472.1,1236.4 473.0,1239.0 C473.9,1241.6 474.8,1244.3 475.6,1246.9 C476.4,1249.5 477.3,1252.8 477.8,1254.8 C478.3,1256.8 478.6,1258.4 478.8,1259.1 L504.4,1259.1 C504.6,1258.4 504.9,1256.8 505.4,1254.8 C505.9,1252.8 506.8,1249.5 507.6,1246.9 C508.4,1244.3 509.3,1241.6 510.2,1239.0 C511.1,1236.4 512.0,1233.7 512.9,1231.1 C513.8,1228.5 514.8,1225.8 515.7,1223.2 C516.6,1220.6 517.6,1217.9 518.5,1215.3 C519.4,1212.7 520.3,1210.0 521.2,1207.4 C522.1,1204.8 523.1,1202.1 524.0,1199.5 C524.9,1196.9 525.6,1194.2 526.4,1191.6 C527.2,1189.0 527.8,1186.3 528.7,1183.7 C529.6,1181.1 530.7,1178.4 531.9,1175.8 C533.1,1173.2 534.7,1170.5 535.9,1167.9 C537.1,1165.3 537.8,1162.3 538.9,1160.0 C540.0,1157.7 540.7,1156.7 542.2,1153.8 C543.7,1150.9 546.2,1146.2 547.7,1142.4 C549.2,1138.6 550.2,1134.8 550.9,1131.0 C551.6,1127.2 551.8,1123.4 551.7,1119.6 C551.6,1115.8 550.9,1112.1 550.2,1108.3 C549.5,1104.5 548.5,1100.7 547.5,1096.9 C546.5,1093.1 545.5,1089.3 544.3,1085.5 C543.1,1081.7 541.5,1077.9 540.3,1074.1 C539.1,1070.3 537.8,1066.6 536.9,1062.8 C536.0,1059.0 535.4,1055.3 534.9,1051.4 C534.4,1047.5 534.0,1043.4 534.0,1039.5 C534.0,1035.6 534.8,1031.7 535.2,1027.9 C535.6,1024.1 536.4,1020.3 536.5,1016.5 C536.6,1012.7 536.6,1008.9 536.1,1005.1 C535.6,1001.3 534.9,997.6 533.5,993.8 C532.1,990.0 529.8,986.2 527.8,982.4 C525.8,978.6 523.8,974.8 521.5,971.0 C519.2,967.2 516.1,963.4 514.1,959.6 C512.1,955.8 511.0,952.1 509.6,948.3 C508.2,944.5 506.8,940.7 505.6,936.9 C504.5,933.1 503.5,929.3 502.7,925.5 C501.9,921.7 501.5,917.9 501.0,914.1 C500.5,910.3 500.2,906.6 499.9,902.8 C499.6,899.0 499.2,895.1 499.0,891.4 C498.8,887.7 498.9,884.1 498.8,880.5 C498.7,876.9 498.5,873.6 498.4,869.9 C498.3,866.2 498.2,862.3 498.1,858.5 C498.0,854.7 497.7,850.9 497.5,847.1 C497.3,843.3 497.1,839.6 496.9,835.8 C496.7,832.0 496.6,828.2 496.4,824.4 C496.2,820.6 496.0,816.8 495.8,813.0 C495.6,809.2 495.3,805.4 495.2,801.6 C495.1,797.8 495.0,794.1 495.0,790.3 C495.0,786.5 495.1,782.7 495.2,778.9 C495.3,775.1 495.6,771.3 495.8,767.5 C496.0,763.7 496.4,759.9 496.6,756.1 C496.8,752.3 496.9,748.6 497.0,744.8 C497.1,741.0 496.9,735.3 496.9,733.4 Z" fill="#d9d9d9" stroke="#333333" stroke-width="2.4" stroke-linejoin="round"/>
<line x1="491.7" y1="797.1" x2="491.7" y2="1005.7" stroke="#333333" stroke-width="2.0"/>
<line x1="491.7" y1="1146.9" x2="491.7" y2="1259.1" stroke="#333333" stroke-width="2.0"/>
<rect x="470.4" y="1005.7" width="42.6" height="141.2" fill="#8c8c8c" stroke="#333333" stroke-width="2.4"/>
<line x1="470.4" y1="1088.0" x2="513.0" y2="1088.0" stroke="#333333" stroke-width="4"/>
<circle cx="491.7" cy="733.4" r="5.3" fill="#333333" fill-opacity="0.8" stroke="#333333" stroke-width="0.8"/>
<circle cx="491.7" cy="733.4" r="5.3" fill="#333333" fill-opacity="0.8" stroke="#333333" stroke-width="0.8"/>
<circle cx="491.7" cy="733.4" r="5.3" fill="#333333" fill-opacity="0.8" stroke="#333333" stroke-width="0.8"/>
<circle cx="491.7" cy="772.1" r="5.3" fill="#333333" fill-opacity="0.8" stroke="#333333" stroke-width="0.8"/>
<circle cx="491.7" cy="780.0" r="5.3" fill="#333333" fill-opacity="0.8" stroke="#333333" stroke-width="0.8"/>
<rect x="482.5" y="1064.4" width="19" height="19" fill="#333333"/>
<path d="M644.5,733.4 C644.5,734.4 644.5,736.3 644.5,739.1 C644.5,741.9 644.5,745.7 644.4,750.4 C644.3,755.1 644.2,759.9 644.0,767.5 C643.8,775.1 643.6,788.4 643.4,796.0 C643.2,803.6 643.1,808.3 643.0,813.0 C642.9,817.7 642.8,820.6 642.7,824.4 C642.6,828.2 642.5,832.0 642.4,835.8 C642.3,839.6 642.1,843.3 641.9,847.1 C641.7,850.9 641.4,854.7 641.1,858.5 C640.8,862.3 640.4,866.2 640.2,869.9 C640.0,873.6 640.0,876.9 639.8,880.5 C639.5,884.1 639.3,887.7 638.7,891.4 C638.1,895.1 637.2,899.0 636.2,902.8 C635.2,906.6 634.2,910.3 633.0,914.1 C631.8,917.9 630.3,921.7 628.8,925.5 C627.2,929.3 625.4,933.1 623.7,936.9 C622.0,940.7 620.3,944.5 618.6,948.3 C616.9,952.1 615.4,955.8 613.4,959.6 C611.4,963.4 608.7,967.2 606.6,971.0 C604.5,974.8 602.6,978.6 600.9,982.4 C599.2,986.2 597.5,990.0 596.6,993.8 C595.7,997.6 595.4,1001.3 595.2,1005.1 C595.0,1008.9 595.1,1012.7 595.2,1016.5 C595.4,1020.3 595.7,1024.1 596.1,1027.9 C596.5,1031.7 597.4,1035.6 597.7,1039.5 C598.0,1043.4 598.4,1047.5 598.1,1051.4 C597.8,1055.3 596.8,1059.0 596.1,1062.8 C595.4,1066.6 594.8,1070.3 593.9,1074.1 C593.0,1077.9 592.0,1081.7 591.0,1085.5 C590.0,1089.3 589.1,1093.1 588.2,1096.9 C587.3,1100.7 586.3,1104.5 585.6,1108.3 C584.9,1112.1 584.0,1115.8 584.0,1119.6 C584.0,1123.4 584.3,1127.2 585.3,1131.0 C586.3,1134.8 587.8,1138.6 589.9,1142.4 C592.0,1146.2 595.6,1150.9 597.6,1153.8 C599.6,1156.7 600.2,1157.6 602.0,1160.0 C603.8,1162.4 605.8,1165.3 608.1,1168.0 C610.5,1170.7 613.8,1173.2 616.1,1175.9 C618.4,1178.6 619.9,1181.2 621.7,1183.9 C623.5,1186.6 625.5,1189.2 626.9,1191.8 C628.3,1194.4 629.3,1197.1 630.4,1199.8 C631.5,1202.5 632.3,1205.1 633.2,1207.8 C634.1,1210.5 635.0,1213.0 635.6,1215.7 C636.2,1218.4 636.7,1221.0 637.0,1223.7 C637.3,1226.4 637.4,1229.1 637.4,1231.7 C637.4,1234.3 637.2,1236.9 637.0,1239.6 C636.8,1242.2 636.5,1244.9 636.4,1247.6 C636.3,1250.2 636.2,1252.8 636.2,1255.5 C636.2,1258.2 636.4,1262.2 636.4,1263.5 L657.6,1263.5 C657.6,1262.2 657.8,1258.2 657.8,1255.5 C657.8,1252.8 657.7,1250.2 657.6,1247.6 C657.5,1244.9 657.2,1242.2 657.0,1239.6 C656.8,1236.9 656.6,1234.3 656.6,1231.7 C656.6,1229.1 656.7,1226.4 657.0,1223.7 C657.3,1221.0 657.8,1218.4 658.4,1215.7 C659.0,1213.0 659.9,1210.5 660.8,1207.8 C661.7,1205.1 662.5,1202.5 663.6,1199.8 C664.7,1197.1 665.7,1194.4 667.1,1191.8 C668.5,1189.2 670.5,1186.6 672.3,1183.9 C674.1,1181.2 675.6,1178.6 677.9,1175.9 C680.2,1173.2 683.5,1170.7 685.9,1168.0 C688.2,1165.3 690.2,1162.4 692.0,1160.0 C693.8,1157.6 694.4,1156.7 696.4,1153.8 C698.4,1150.9 702.0,1146.2 704.1,1142.4 C706.2,1138.6 707.7,1134.8 708.7,1131.0 C709.7,1127.2 710.0,1123.4 710.0,1119.6 C710.0,1115.8 709.1,1112.1 708.4,1108.3 C707.7,1104.5 706.7,1100.7 705.8,1096.9 C704.9,1093.1 704.0,1089.3 703.0,1085.5 C702.0,1081.7 701.0,1077.9 700.1,1074.1 C699.2,1070.3 698.6,1066.6 697.9,1062.8 C697.2,1059.0 696.2,1055.3 695.9,1051.4 C695.6,1047.5 696.0,1043.4 696.3,1039.5 C696.6,1035.6 697.5,1031.7 697.9,1027.9 C698.3,1024.1 698.6,1020.3 698.8,1016.5 C698.9,1012.7 699.0,1008.9 698.8,1005.1 C698.6,1001.3 698.3,997.6 697.4,993.8 C696.5,990.0 694.8,986.2 693.1,982.4 C691.4,978.6 689.5,974.8 687.4,971.0 C685.3,967.2 682.6,963.4 680.6,959.6 C678.6,955.8 677.1,952.1 675.4,948.3 C673.7,944.5 672.0,940.7 670.3,936.9 C668.6,933.1 666.8,929.3 665.2,925.5 C663.7,921.7 662.2,917.9 661.0,914.1 C659.8,910.3 658.8,906.6 657.8,902.8 C656.8,899.0 655.9,895.1 655.3,891.4 C654.7,887.7 654.5,884.1 654.2,880.5 C654.0,876.9 654.0,873.6 653.8,869.9 C653.6,866.2 653.2,862.3 652.9,858.5 C652.6,854.7 652.3,850.9 652.1,847.1 C651.9,843.3 651.7,839.6 651.6,835.8 C651.5,832.0 651.4,828.2 651.3,824.4 C651.2,820.6 651.1,817.7 651.0,813.0 C650.9,808.3 650.8,803.6 650.6,796.0 C650.4,788.4 650.2,775.1 650.0,767.5 C649.8,759.9 649.7,755.1 649.6,750.4 C649.5,745.7 649.5,741.9 649.5,739.1 C649.5,736.3 649.5,734.4 649.5,733.4 Z" fill="#fafafa" stroke="#333333" stroke-width="2.4" stroke-linejoin="round"/>
<line x1="647.0" y1="803.0" x2="647.0" y2="998.3" stroke="#333333" stroke-width="2.0"/>
<line x1="647.0" y1="1131.0" x2="647.0" y2="1263.5" stroke="#333333" stroke-width="2.0"/>
<rect x="626.0" y="998.3" width="42.1" height="132.7" fill="#f2f2f2" stroke="#333333" stroke-width="2.4"/>
<line x1="626.0" y1="1076.2" x2="668.0" y2="1076.2" stroke="#333333" stroke-width="4"/>
<circle cx="647.0" cy="733.4" r="5.3" fill="#333333" fill-opacity="0.8" stroke="#333333" stroke-width="0.8"/>
<circle cx="647.0" cy="733.4" r="5.3" fill="#333333" fill-opacity="0.8" stroke="#333333" stroke-width="0.8"/>
<circle cx="647.0" cy="733.4" r="5.3" fill="#333333" fill-opacity="0.8" stroke="#333333" stroke-width="0.8"/>
<circle cx="647.0" cy="759.5" r="5.3" fill="#333333" fill-opacity="0.8" stroke="#333333" stroke-width="0.8"/>
<circle cx="647.0" cy="777.2" r="5.3" fill="#333333" fill-opacity="0.8" stroke="#333333" stroke-width="0.8"/>
<circle cx="647.0" cy="785.7" r="5.3" fill="#333333" fill-opacity="0.8" stroke="#333333" stroke-width="0.8"/>
<circle cx="647.0" cy="790.3" r="5.3" fill="#333333" fill-opacity="0.8" stroke="#333333" stroke-width="0.8"/>
<rect x="636.5" y="1054.7" width="19" height="19" fill="#333333"/>
<path d="M770.2,733.9 C770.3,734.8 770.7,735.4 770.9,739.1 C771.1,742.8 771.2,750.4 771.2,756.1 C771.2,761.8 771.2,768.5 771.2,773.2 C771.2,778.0 771.3,778.9 771.2,784.6 C771.1,790.3 770.8,798.8 770.6,807.3 C770.4,815.8 770.2,829.2 770.1,835.8 C770.0,842.4 769.9,843.3 769.7,847.1 C769.5,850.9 769.3,854.7 769.1,858.5 C768.9,862.3 768.6,866.2 768.3,869.9 C768.0,873.6 767.7,876.9 767.4,880.5 C767.1,884.1 766.9,887.7 766.6,891.4 C766.3,895.1 765.9,899.0 765.5,902.8 C765.1,906.6 764.7,910.3 764.2,914.1 C763.7,917.9 763.2,921.7 762.5,925.5 C761.8,929.3 761.0,933.1 759.9,936.9 C758.8,940.7 757.4,944.5 755.9,948.3 C754.4,952.1 752.7,955.8 750.8,959.6 C748.9,963.4 746.6,967.2 744.3,971.0 C742.0,974.8 739.1,978.6 736.9,982.4 C734.8,986.2 733.0,990.0 731.4,993.8 C729.9,997.6 728.6,1001.3 727.6,1005.1 C726.6,1008.9 725.9,1012.7 725.3,1016.5 C724.7,1020.3 724.4,1024.1 724.2,1027.9 C724.0,1031.7 724.1,1035.6 724.2,1039.5 C724.3,1043.4 724.7,1047.5 724.8,1051.4 C724.9,1055.3 725.1,1059.0 724.8,1062.8 C724.5,1066.6 723.9,1070.3 723.0,1074.1 C722.1,1077.9 720.5,1081.7 719.3,1085.5 C718.1,1089.3 716.8,1093.1 715.7,1096.9 C714.6,1100.7 713.3,1104.5 712.5,1108.3 C711.7,1112.1 711.1,1115.8 710.8,1119.6 C710.5,1123.4 710.5,1127.2 710.8,1131.0 C711.1,1134.8 711.8,1139.2 712.5,1142.4 C713.2,1145.6 714.0,1147.4 714.9,1150.0 C715.8,1152.6 716.6,1155.3 717.7,1157.9 C718.8,1160.5 720.2,1163.2 721.4,1165.8 C722.7,1168.4 723.9,1171.1 725.2,1173.7 C726.5,1176.3 728.1,1179.0 729.3,1181.6 C730.5,1184.2 731.4,1186.9 732.4,1189.5 C733.5,1192.1 734.6,1194.8 735.6,1197.4 C736.6,1200.0 737.4,1202.7 738.4,1205.3 C739.4,1207.9 740.2,1210.6 741.5,1213.2 C742.8,1215.8 744.7,1218.5 746.3,1221.1 C748.0,1223.7 749.6,1226.3 751.4,1229.0 C753.2,1231.7 756.3,1235.9 757.3,1237.3 L790.1,1237.3 C791.1,1235.9 794.2,1231.7 796.0,1229.0 C797.8,1226.3 799.5,1223.7 801.1,1221.1 C802.8,1218.5 804.6,1215.8 805.9,1213.2 C807.2,1210.6 808.0,1207.9 809.0,1205.3 C810.0,1202.7 810.8,1200.0 811.8,1197.4 C812.8,1194.8 814.0,1192.1 815.0,1189.5 C816.0,1186.9 816.9,1184.2 818.1,1181.6 C819.3,1179.0 820.9,1176.3 822.2,1173.7 C823.5,1171.1 824.8,1168.4 826.0,1165.8 C827.2,1163.2 828.6,1160.5 829.7,1157.9 C830.8,1155.3 831.6,1152.6 832.5,1150.0 C833.4,1147.4 834.2,1145.6 834.9,1142.4 C835.6,1139.2 836.3,1134.8 836.6,1131.0 C836.9,1127.2 836.9,1123.4 836.6,1119.6 C836.3,1115.8 835.7,1112.1 834.9,1108.3 C834.1,1104.5 832.8,1100.7 831.7,1096.9 C830.6,1093.1 829.3,1089.3 828.1,1085.5 C826.9,1081.7 825.3,1077.9 824.4,1074.1 C823.5,1070.3 822.9,1066.6 822.6,1062.8 C822.3,1059.0 822.5,1055.3 822.6,1051.4 C822.7,1047.5 823.1,1043.4 823.2,1039.5 C823.3,1035.6 823.4,1031.7 823.2,1027.9 C823.0,1024.1 822.7,1020.3 822.1,1016.5 C821.5,1012.7 820.8,1008.9 819.8,1005.1 C818.8,1001.3 817.5,997.6 816.0,993.8 C814.5,990.0 812.6,986.2 810.5,982.4 C808.4,978.6 805.4,974.8 803.1,971.0 C800.8,967.2 798.5,963.4 796.6,959.6 C794.7,955.8 793.0,952.1 791.5,948.3 C790.0,944.5 788.6,940.7 787.5,936.9 C786.4,933.1 785.6,929.3 784.9,925.5 C784.2,921.7 783.7,917.9 783.2,914.1 C782.7,910.3 782.3,906.6 781.9,902.8 C781.5,899.0 781.1,895.1 780.8,891.4 C780.5,887.7 780.3,884.1 780.0,880.5 C779.7,876.9 779.4,873.6 779.1,869.9 C778.8,866.2 778.5,862.3 778.3,858.5 C778.1,854.7 777.9,850.9 777.7,847.1 C777.5,843.3 777.5,842.4 777.3,835.8 C777.2,829.2 777.0,815.8 776.8,807.3 C776.6,798.8 776.3,790.3 776.2,784.6 C776.1,778.9 776.2,778.0 776.2,773.2 C776.2,768.5 776.2,761.8 776.2,756.1 C776.2,750.4 776.3,742.8 776.5,739.1 C776.7,735.4 777.1,734.8 777.2,733.9 Z" fill="#d9d9d9" stroke="#333333" stroke-width="2.4" stroke-linejoin="round"/>
<line x1="775.0" y1="843.2" x2="775.0" y2="1022.2" stroke="#888888" stroke-width="2"/>
<line x1="775.0" y1="1152.9" x2="775.0" y2="1237.3" stroke="#888888" stroke-width="2"/>
<line x1="773.0" y1="843.2" x2="773.0" y2="1022.2" stroke="#333333" stroke-width="2.0"/>
<line x1="773.0" y1="1152.9" x2="773.0" y2="1237.3" stroke="#333333" stroke-width="2.0"/>
<rect x="751.5" y="1022.2" width="43.0" height="130.7" fill="#8c8c8c" stroke="#333333" stroke-width="2.4"/>
<line x1="751.5" y1="1098.6" x2="794.5" y2="1098.6" stroke="#333333" stroke-width="4"/>
<circle cx="773.0" cy="733.9" r="5.3" fill="#333333" fill-opacity="0.8" stroke="#333333" stroke-width="0.8"/>
<circle cx="773.0" cy="733.9" r="5.3" fill="#333333" fill-opacity="0.8" stroke="#333333" stroke-width="0.8"/>
<circle cx="773.0" cy="733.9" r="5.3" fill="#333333" fill-opacity="0.8" stroke="#333333" stroke-width="0.8"/>
<circle cx="773.0" cy="737.5" r="5.3" fill="#333333" fill-opacity="0.8" stroke="#333333" stroke-width="0.8"/>
<circle cx="773.0" cy="790.8" r="5.3" fill="#333333" fill-opacity="0.8" stroke="#333333" stroke-width="0.8"/>
<circle cx="773.0" cy="801.1" r="5.3" fill="#333333" fill-opacity="0.8" stroke="#333333" stroke-width="0.8"/>
<circle cx="773.0" cy="819.3" r="5.3" fill="#333333" fill-opacity="0.8" stroke="#333333" stroke-width="0.8"/>
<circle cx="773.0" cy="822.0" r="5.3" fill="#333333" fill-opacity="0.8" stroke="#333333" stroke-width="0.8"/>
<circle cx="773.0" cy="825.5" r="5.3" fill="#333333" fill-opacity="0.8" stroke="#333333" stroke-width="0.8"/>
<rect x="764.6" y="1073.0" width="19" height="19" fill="#333333"/>
<path d="M993.9,733.4 C993.8,735.3 993.7,741.0 993.4,744.8 C993.1,748.6 992.6,752.3 992.2,756.1 C991.8,759.9 991.3,763.7 991.0,767.5 C990.7,771.3 990.5,775.1 990.2,778.9 C989.9,782.7 989.4,786.5 989.1,790.3 C988.8,794.1 988.5,797.8 988.2,801.6 C987.9,805.4 987.5,809.2 987.1,813.0 C986.7,816.8 986.4,820.6 986.0,824.4 C985.6,828.2 985.0,832.0 984.5,835.8 C984.0,839.6 983.3,843.3 982.8,847.1 C982.3,850.9 982.1,854.7 981.7,858.5 C981.3,862.3 980.8,866.2 980.5,869.9 C980.2,873.6 980.1,876.9 979.8,880.5 C979.5,884.1 979.2,887.7 978.8,891.4 C978.4,895.1 978.0,899.0 977.4,902.8 C976.8,906.6 976.0,910.3 975.1,914.1 C974.2,917.9 973.1,921.7 972.0,925.5 C970.9,929.3 969.8,933.1 968.6,936.9 C967.4,940.7 965.8,944.5 964.6,948.3 C963.4,952.1 962.3,955.8 961.2,959.6 C960.1,963.4 959.0,967.2 958.0,971.0 C957.0,974.8 956.1,978.6 955.5,982.4 C954.9,986.2 954.5,990.0 954.6,993.8 C954.7,997.6 955.3,1001.3 956.1,1005.1 C956.9,1008.9 958.3,1012.7 959.5,1016.5 C960.7,1020.3 962.1,1024.1 963.3,1027.9 C964.5,1031.7 965.5,1035.6 966.5,1039.5 C967.5,1043.4 968.5,1047.5 969.2,1051.4 C969.9,1055.3 970.6,1059.0 970.9,1062.8 C971.2,1066.6 971.3,1070.3 971.2,1074.1 C971.1,1077.9 970.7,1081.7 970.3,1085.5 C969.9,1089.3 969.3,1093.1 968.9,1096.9 C968.5,1100.7 968.0,1104.5 967.8,1108.3 C967.6,1112.1 967.3,1115.8 967.5,1119.6 C967.7,1123.4 968.1,1127.2 968.9,1131.0 C969.6,1134.8 970.8,1138.6 972.0,1142.4 C973.2,1146.2 975.0,1150.9 976.0,1153.8 C977.0,1156.7 977.2,1157.7 977.8,1160.0 C978.4,1162.3 979.0,1165.3 979.8,1167.9 C980.6,1170.5 981.6,1173.2 982.5,1175.8 C983.4,1178.4 984.2,1181.1 984.9,1183.7 C985.6,1186.3 986.3,1189.0 986.9,1191.6 C987.5,1194.2 988.1,1196.9 988.5,1199.5 C988.9,1202.1 989.1,1204.8 989.4,1207.4 C989.7,1210.0 989.9,1212.7 990.2,1215.3 C990.5,1217.9 990.8,1220.6 991.2,1223.2 C991.6,1225.8 992.0,1228.5 992.4,1231.1 C992.8,1233.7 993.2,1236.4 993.6,1239.0 C994.0,1241.6 994.4,1244.3 994.8,1246.9 C995.2,1249.5 995.9,1252.9 996.2,1254.8 C996.4,1256.7 996.3,1257.9 996.3,1258.5 L1010.3,1258.5 C1010.3,1257.9 1010.1,1256.7 1010.4,1254.8 C1010.6,1252.9 1011.4,1249.5 1011.8,1246.9 C1012.2,1244.3 1012.6,1241.6 1013.0,1239.0 C1013.4,1236.4 1013.8,1233.7 1014.2,1231.1 C1014.6,1228.5 1015.0,1225.8 1015.4,1223.2 C1015.8,1220.6 1016.1,1217.9 1016.4,1215.3 C1016.7,1212.7 1016.9,1210.0 1017.2,1207.4 C1017.5,1204.8 1017.7,1202.1 1018.1,1199.5 C1018.5,1196.9 1019.1,1194.2 1019.7,1191.6 C1020.3,1189.0 1021.0,1186.3 1021.7,1183.7 C1022.4,1181.1 1023.2,1178.4 1024.1,1175.8 C1024.9,1173.2 1026.0,1170.5 1026.8,1167.9 C1027.6,1165.3 1028.2,1162.3 1028.8,1160.0 C1029.4,1157.7 1029.6,1156.7 1030.6,1153.8 C1031.6,1150.9 1033.4,1146.2 1034.6,1142.4 C1035.8,1138.6 1037.0,1134.8 1037.7,1131.0 C1038.5,1127.2 1038.9,1123.4 1039.1,1119.6 C1039.3,1115.8 1039.0,1112.1 1038.8,1108.3 C1038.6,1104.5 1038.1,1100.7 1037.7,1096.9 C1037.3,1093.1 1036.7,1089.3 1036.3,1085.5 C1035.9,1081.7 1035.5,1077.9 1035.4,1074.1 C1035.3,1070.3 1035.4,1066.6 1035.7,1062.8 C1036.0,1059.0 1036.7,1055.3 1037.4,1051.4 C1038.1,1047.5 1039.1,1043.4 1040.1,1039.5 C1041.1,1035.6 1042.1,1031.7 1043.3,1027.9 C1044.5,1024.1 1045.9,1020.3 1047.1,1016.5 C1048.3,1012.7 1049.7,1008.9 1050.5,1005.1 C1051.3,1001.3 1051.9,997.6 1052.0,993.8 C1052.1,990.0 1051.7,986.2 1051.1,982.4 C1050.5,978.6 1049.5,974.8 1048.6,971.0 C1047.6,967.2 1046.5,963.4 1045.4,959.6 C1044.3,955.8 1043.2,952.1 1042.0,948.3 C1040.8,944.5 1039.2,940.7 1038.0,936.9 C1036.8,933.1 1035.7,929.3 1034.6,925.5 C1033.5,921.7 1032.4,917.9 1031.5,914.1 C1030.6,910.3 1029.8,906.6 1029.2,902.8 C1028.6,899.0 1028.2,895.1 1027.8,891.4 C1027.4,887.7 1027.1,884.1 1026.8,880.5 C1026.5,876.9 1026.4,873.6 1026.1,869.9 C1025.8,866.2 1025.3,862.3 1024.9,858.5 C1024.5,854.7 1024.3,850.9 1023.8,847.1 C1023.3,843.3 1022.6,839.6 1022.1,835.8 C1021.6,832.0 1021.0,828.2 1020.6,824.4 C1020.2,820.6 1019.9,816.8 1019.5,813.0 C1019.1,809.2 1018.7,805.4 1018.4,801.6 C1018.1,797.8 1017.8,794.1 1017.5,790.3 C1017.2,786.5 1016.7,782.7 1016.4,778.9 C1016.1,775.1 1015.9,771.3 1015.6,767.5 C1015.3,763.7 1014.8,759.9 1014.4,756.1 C1014.0,752.3 1013.5,748.6 1013.2,744.8 C1012.9,741.0 1012.8,735.3 1012.7,733.4 Z" fill="#fafafa" stroke="#333333" stroke-width="2.4" stroke-linejoin="round"/>
<line x1="1003.3" y1="733.4" x2="1003.3" y2="918.9" stroke="#333333" stroke-width="2.0"/>
<line x1="1003.3" y1="1104.8" x2="1003.3" y2="1258.5" stroke="#333333" stroke-width="2.0"/>
<rect x="981.9" y="918.9" width="42.7" height="185.9" fill="#f2f2f2" stroke="#333333" stroke-width="2.4"/>
<line x1="981.9" y1="998.3" x2="1024.6" y2="998.3" stroke="#333333" stroke-width="4"/>
<rect x="994.6" y="994.4" width="19" height="19" fill="#333333"/>
<path d="M1118.7,733.4 C1118.6,735.3 1118.2,741.0 1118.1,744.8 C1118.0,748.6 1118.1,752.3 1118.3,756.1 C1118.5,759.9 1118.9,763.7 1119.1,767.5 C1119.3,771.3 1119.6,775.1 1119.7,778.9 C1119.8,782.7 1119.8,786.5 1119.7,790.3 C1119.7,794.1 1119.6,797.8 1119.4,801.6 C1119.2,805.4 1118.9,809.2 1118.6,813.0 C1118.3,816.8 1117.8,820.6 1117.4,824.4 C1117.0,828.2 1116.7,832.0 1116.3,835.8 C1115.9,839.6 1115.3,843.3 1114.8,847.1 C1114.3,850.9 1113.9,854.7 1113.4,858.5 C1112.9,862.3 1112.2,866.2 1111.7,869.9 C1111.2,873.6 1110.9,876.9 1110.5,880.5 C1110.1,884.1 1109.6,887.7 1109.1,891.4 C1108.6,895.1 1108.2,899.0 1107.7,902.8 C1107.2,906.6 1106.6,910.3 1106.0,914.1 C1105.4,917.9 1104.9,921.7 1104.3,925.5 C1103.7,929.3 1103.2,933.1 1102.6,936.9 C1101.9,940.7 1101.2,944.5 1100.4,948.3 C1099.6,952.1 1098.5,955.8 1097.5,959.6 C1096.5,963.4 1095.2,967.2 1094.1,971.0 C1093.0,974.8 1091.9,978.6 1090.9,982.4 C1090.0,986.2 1089.1,990.0 1088.4,993.8 C1087.8,997.6 1087.3,1001.3 1087.0,1005.1 C1086.7,1008.9 1086.7,1012.7 1086.7,1016.5 C1086.7,1020.3 1087.0,1024.1 1087.0,1027.9 C1087.0,1031.7 1087.0,1035.6 1087.0,1039.5 C1087.0,1043.4 1087.3,1047.5 1087.3,1051.4 C1087.3,1055.3 1087.1,1059.0 1087.0,1062.8 C1086.9,1066.6 1086.8,1070.3 1086.7,1074.1 C1086.7,1077.9 1086.6,1081.7 1086.7,1085.5 C1086.8,1089.3 1086.9,1093.1 1087.3,1096.9 C1087.7,1100.7 1088.2,1104.5 1089.0,1108.3 C1089.8,1112.1 1091.2,1115.8 1092.4,1119.6 C1093.6,1123.4 1095.1,1127.2 1096.4,1131.0 C1097.7,1134.8 1099.0,1138.6 1100.4,1142.4 C1101.8,1146.2 1103.9,1150.9 1105.0,1153.8 C1106.1,1156.7 1106.3,1157.7 1107.0,1160.0 C1107.7,1162.3 1108.3,1165.3 1108.9,1167.9 C1109.5,1170.5 1110.2,1173.2 1110.7,1175.8 C1111.2,1178.4 1111.4,1181.1 1111.7,1183.7 C1112.0,1186.3 1112.3,1189.0 1112.5,1191.6 C1112.7,1194.2 1112.9,1196.9 1113.0,1199.5 C1113.1,1202.1 1113.0,1204.8 1113.1,1207.4 C1113.2,1210.0 1113.4,1212.7 1113.5,1215.3 C1113.6,1217.9 1113.7,1220.6 1113.9,1223.2 C1114.1,1225.8 1114.4,1228.5 1114.7,1231.1 C1115.0,1233.7 1115.4,1236.4 1115.9,1239.0 C1116.4,1241.6 1117.1,1244.3 1117.7,1246.9 C1118.3,1249.5 1119.0,1252.9 1119.3,1254.8 C1119.6,1256.7 1119.3,1257.7 1119.3,1258.3 L1141.7,1258.3 C1141.7,1257.7 1141.4,1256.7 1141.7,1254.8 C1142.0,1252.9 1142.7,1249.5 1143.3,1246.9 C1143.9,1244.3 1144.6,1241.6 1145.1,1239.0 C1145.6,1236.4 1146.0,1233.7 1146.3,1231.1 C1146.6,1228.5 1146.9,1225.8 1147.1,1223.2 C1147.3,1220.6 1147.4,1217.9 1147.5,1215.3 C1147.6,1212.7 1147.8,1210.0 1147.9,1207.4 C1148.0,1204.8 1147.9,1202.1 1148.0,1199.5 C1148.1,1196.9 1148.3,1194.2 1148.5,1191.6 C1148.7,1189.0 1149.0,1186.3 1149.3,1183.7 C1149.6,1181.1 1149.8,1178.4 1150.3,1175.8 C1150.8,1173.2 1151.5,1170.5 1152.1,1167.9 C1152.7,1165.3 1153.3,1162.3 1154.0,1160.0 C1154.7,1157.7 1154.9,1156.7 1156.0,1153.8 C1157.1,1150.9 1159.2,1146.2 1160.6,1142.4 C1162.0,1138.6 1163.3,1134.8 1164.6,1131.0 C1165.9,1127.2 1167.4,1123.4 1168.6,1119.6 C1169.8,1115.8 1171.2,1112.1 1172.0,1108.3 C1172.8,1104.5 1173.3,1100.7 1173.7,1096.9 C1174.1,1093.1 1174.2,1089.3 1174.3,1085.5 C1174.4,1081.7 1174.3,1077.9 1174.3,1074.1 C1174.2,1070.3 1174.1,1066.6 1174.0,1062.8 C1173.9,1059.0 1173.7,1055.3 1173.7,1051.4 C1173.7,1047.5 1174.0,1043.4 1174.0,1039.5 C1174.0,1035.6 1174.0,1031.7 1174.0,1027.9 C1174.0,1024.1 1174.3,1020.3 1174.3,1016.5 C1174.3,1012.7 1174.3,1008.9 1174.0,1005.1 C1173.7,1001.3 1173.2,997.6 1172.6,993.8 C1171.9,990.0 1171.0,986.2 1170.1,982.4 C1169.1,978.6 1168.0,974.8 1166.9,971.0 C1165.8,967.2 1164.5,963.4 1163.5,959.6 C1162.5,955.8 1161.4,952.1 1160.6,948.3 C1159.8,944.5 1159.1,940.7 1158.4,936.9 C1157.8,933.1 1157.3,929.3 1156.7,925.5 C1156.1,921.7 1155.6,917.9 1155.0,914.1 C1154.4,910.3 1153.8,906.6 1153.3,902.8 C1152.8,899.0 1152.4,895.1 1151.9,891.4 C1151.4,887.7 1150.9,884.1 1150.5,880.5 C1150.1,876.9 1149.8,873.6 1149.3,869.9 C1148.8,866.2 1148.1,862.3 1147.6,858.5 C1147.1,854.7 1146.7,850.9 1146.2,847.1 C1145.7,843.3 1145.1,839.6 1144.7,835.8 C1144.3,832.0 1144.0,828.2 1143.6,824.4 C1143.2,820.6 1142.7,816.8 1142.4,813.0 C1142.1,809.2 1141.8,805.4 1141.6,801.6 C1141.4,797.8 1141.3,794.1 1141.3,790.3 C1141.2,786.5 1141.2,782.7 1141.3,778.9 C1141.4,775.1 1141.7,771.3 1141.9,767.5 C1142.1,763.7 1142.5,759.9 1142.7,756.1 C1142.9,752.3 1143.0,748.6 1142.9,744.8 C1142.8,741.0 1142.4,735.3 1142.3,733.4 Z" fill="#d9d9d9" stroke="#333333" stroke-width="2.4" stroke-linejoin="round"/>
<line x1="1130.5" y1="733.4" x2="1130.5" y2="938.6" stroke="#333333" stroke-width="1.5"/>
<line x1="1130.5" y1="1108.8" x2="1130.5" y2="1258.3" stroke="#333333" stroke-width="1.5"/>
<rect x="1109.1" y="938.6" width="42.8" height="170.2" fill="#8c8c8c" stroke="#333333" stroke-width="2.4"/>
<line x1="1109.1" y1="1025.0" x2="1151.9" y2="1025.0" stroke="#333333" stroke-width="4"/>
<rect x="1120.6" y="1006.6" width="19" height="19" fill="#333333"/>
<path d="M1277.2,733.4 C1277.0,735.3 1276.2,741.0 1276.0,744.8 C1275.8,748.6 1275.7,752.3 1275.7,756.1 C1275.7,759.9 1275.8,763.7 1276.0,767.5 C1276.2,771.3 1276.5,775.1 1276.6,778.9 C1276.7,782.7 1276.8,786.5 1276.8,790.3 C1276.8,794.1 1276.8,797.8 1276.8,801.6 C1276.8,805.4 1276.8,809.2 1276.6,813.0 C1276.4,816.8 1276.1,820.6 1275.7,824.4 C1275.3,828.2 1274.8,832.0 1274.1,835.8 C1273.5,839.6 1272.6,843.3 1271.8,847.1 C1271.0,850.9 1270.1,854.7 1269.2,858.5 C1268.3,862.3 1267.2,866.2 1266.4,869.9 C1265.6,873.6 1265.2,876.9 1264.5,880.5 C1263.8,884.1 1263.4,887.7 1262.5,891.4 C1261.6,895.1 1260.6,899.0 1259.3,902.8 C1258.0,906.6 1256.2,910.3 1254.8,914.1 C1253.4,917.9 1252.0,921.7 1250.8,925.5 C1249.6,929.3 1248.7,933.1 1247.4,936.9 C1246.1,940.7 1244.8,944.5 1243.2,948.3 C1241.6,952.1 1239.8,955.8 1237.7,959.6 C1235.7,963.4 1233.1,967.2 1230.9,971.0 C1228.7,974.8 1226.2,978.6 1224.6,982.4 C1223.0,986.2 1221.9,990.0 1221.5,993.8 C1221.1,997.6 1221.5,1001.3 1222.3,1005.1 C1223.1,1008.9 1224.7,1012.7 1226.3,1016.5 C1227.9,1020.3 1230.0,1024.1 1231.8,1027.9 C1233.6,1031.7 1235.6,1035.6 1236.9,1039.5 C1238.2,1043.4 1238.6,1047.5 1239.4,1051.4 C1240.2,1055.3 1241.2,1059.0 1242.0,1062.8 C1242.8,1066.6 1243.3,1070.3 1243.9,1074.1 C1244.5,1077.9 1245.0,1081.7 1245.7,1085.5 C1246.4,1089.3 1247.2,1093.1 1247.9,1096.9 C1248.7,1100.7 1249.4,1104.5 1250.2,1108.3 C1251.0,1112.1 1251.7,1115.8 1253.0,1119.6 C1254.3,1123.4 1256.6,1127.2 1258.2,1131.0 C1259.8,1134.8 1261.0,1138.6 1262.7,1142.4 C1264.4,1146.2 1267.0,1150.9 1268.4,1153.8 C1269.8,1156.7 1270.2,1157.7 1271.2,1160.0 C1272.2,1162.3 1273.3,1165.3 1274.2,1167.9 C1275.1,1170.5 1276.0,1173.2 1276.7,1175.8 C1277.4,1178.4 1277.8,1181.1 1278.2,1183.7 C1278.7,1186.3 1279.1,1189.0 1279.4,1191.6 C1279.7,1194.2 1279.8,1196.9 1279.9,1199.5 C1280.0,1202.1 1280.0,1204.8 1279.9,1207.4 C1279.9,1210.0 1279.8,1212.7 1279.6,1215.3 C1279.4,1217.9 1279.1,1220.6 1278.8,1223.2 C1278.5,1225.8 1278.2,1228.5 1277.8,1231.1 C1277.4,1233.7 1277.0,1236.4 1276.6,1239.0 C1276.2,1241.6 1275.7,1244.3 1275.4,1246.9 C1275.1,1249.5 1275.0,1252.3 1274.9,1254.8 C1274.8,1257.3 1275.0,1260.8 1275.0,1262.0 L1296.4,1262.0 C1296.4,1260.8 1296.6,1257.3 1296.5,1254.8 C1296.4,1252.3 1296.3,1249.5 1296.0,1246.9 C1295.7,1244.3 1295.2,1241.6 1294.8,1239.0 C1294.4,1236.4 1294.0,1233.7 1293.6,1231.1 C1293.2,1228.5 1292.9,1225.8 1292.6,1223.2 C1292.3,1220.6 1292.0,1217.9 1291.8,1215.3 C1291.6,1212.7 1291.5,1210.0 1291.5,1207.4 C1291.5,1204.8 1291.4,1202.1 1291.5,1199.5 C1291.6,1196.9 1291.7,1194.2 1292.0,1191.6 C1292.3,1189.0 1292.8,1186.3 1293.2,1183.7 C1293.7,1181.1 1294.0,1178.4 1294.7,1175.8 C1295.4,1173.2 1296.3,1170.5 1297.2,1167.9 C1298.1,1165.3 1299.2,1162.3 1300.2,1160.0 C1301.2,1157.7 1301.6,1156.7 1303.0,1153.8 C1304.4,1150.9 1307.0,1146.2 1308.7,1142.4 C1310.4,1138.6 1311.6,1134.8 1313.2,1131.0 C1314.8,1127.2 1317.1,1123.4 1318.4,1119.6 C1319.7,1115.8 1320.4,1112.1 1321.2,1108.3 C1322.0,1104.5 1322.8,1100.7 1323.5,1096.9 C1324.2,1093.1 1325.0,1089.3 1325.7,1085.5 C1326.4,1081.7 1326.9,1077.9 1327.5,1074.1 C1328.1,1070.3 1328.7,1066.6 1329.4,1062.8 C1330.2,1059.0 1331.2,1055.3 1332.0,1051.4 C1332.8,1047.5 1333.2,1043.4 1334.5,1039.5 C1335.8,1035.6 1337.8,1031.7 1339.6,1027.9 C1341.4,1024.1 1343.5,1020.3 1345.1,1016.5 C1346.7,1012.7 1348.3,1008.9 1349.1,1005.1 C1349.9,1001.3 1350.3,997.6 1349.9,993.8 C1349.5,990.0 1348.4,986.2 1346.8,982.4 C1345.2,978.6 1342.7,974.8 1340.5,971.0 C1338.3,967.2 1335.8,963.4 1333.7,959.6 C1331.7,955.8 1329.8,952.1 1328.2,948.3 C1326.6,944.5 1325.3,940.7 1324.0,936.9 C1322.7,933.1 1321.8,929.3 1320.6,925.5 C1319.4,921.7 1318.0,917.9 1316.6,914.1 C1315.2,910.3 1313.4,906.6 1312.1,902.8 C1310.8,899.0 1309.8,895.1 1308.9,891.4 C1308.0,887.7 1307.6,884.1 1306.9,880.5 C1306.2,876.9 1305.8,873.6 1305.0,869.9 C1304.2,866.2 1303.1,862.3 1302.2,858.5 C1301.3,854.7 1300.4,850.9 1299.6,847.1 C1298.8,843.3 1298.0,839.6 1297.3,835.8 C1296.6,832.0 1296.1,828.2 1295.7,824.4 C1295.3,820.6 1295.0,816.8 1294.8,813.0 C1294.6,809.2 1294.6,805.4 1294.6,801.6 C1294.6,797.8 1294.6,794.1 1294.6,790.3 C1294.6,786.5 1294.7,782.7 1294.8,778.9 C1294.9,775.1 1295.2,771.3 1295.4,767.5 C1295.6,763.7 1295.7,759.9 1295.7,756.1 C1295.7,752.3 1295.7,748.6 1295.4,744.8 C1295.2,741.0 1294.4,735.3 1294.2,733.4 Z" fill="#fafafa" stroke="#333333" stroke-width="2.4" stroke-linejoin="round"/>
<line x1="1285.7" y1="744.8" x2="1285.7" y2="942.6" stroke="#333333" stroke-width="2.0"/>
<line x1="1285.7" y1="1077.5" x2="1285.7" y2="1262.0" stroke="#333333" stroke-width="2.0"/>
<rect x="1264.5" y="942.6" width="42.4" height="134.9" fill="#f2f2f2" stroke="#333333" stroke-width="2.4"/>
<line x1="1264.5" y1="998.3" x2="1306.9" y2="998.3" stroke="#333333" stroke-width="4"/>
<circle cx="1285.7" cy="733.4" r="5.3" fill="#333333" fill-opacity="0.8" stroke="#333333" stroke-width="0.8"/>
<circle cx="1285.7" cy="733.4" r="5.3" fill="#333333" fill-opacity="0.8" stroke="#333333" stroke-width="0.8"/>
<circle cx="1285.7" cy="733.4" r="5.3" fill="#333333" fill-opacity="0.8" stroke="#333333" stroke-width="0.8"/>
<circle cx="1285.7" cy="736.0" r="5.3" fill="#333333" fill-opacity="0.8" stroke="#333333" stroke-width="0.8"/>
<circle cx="1285.7" cy="741.3" r="5.3" fill="#333333" fill-opacity="0.8" stroke="#333333" stroke-width="0.8"/>
<rect x="1275.6" y="997.3" width="19" height="19" fill="#333333"/>
<path d="M1407.1,733.4 C1407.1,735.3 1407.2,741.0 1407.3,744.8 C1407.4,748.6 1407.7,752.3 1407.8,756.1 C1407.9,759.9 1407.8,763.7 1407.8,767.5 C1407.8,771.3 1407.6,775.1 1407.5,778.9 C1407.4,782.7 1407.3,786.5 1407.2,790.3 C1407.0,794.1 1406.8,797.8 1406.6,801.6 C1406.4,805.4 1406.1,809.2 1405.8,813.0 C1405.5,816.8 1405.1,820.6 1404.7,824.4 C1404.3,828.2 1404.0,832.0 1403.6,835.8 C1403.2,839.6 1402.8,843.3 1402.4,847.1 C1402.0,850.9 1401.5,854.7 1401.1,858.5 C1400.7,862.3 1400.3,866.2 1399.8,869.9 C1399.3,873.6 1398.8,876.9 1398.3,880.5 C1397.8,884.1 1397.6,887.7 1397.1,891.4 C1396.6,895.1 1396.1,899.0 1395.4,902.8 C1394.7,906.6 1393.9,910.3 1392.9,914.1 C1391.8,917.9 1390.3,921.7 1389.1,925.5 C1387.9,929.3 1386.7,933.1 1385.7,936.9 C1384.7,940.7 1383.8,944.5 1382.9,948.3 C1381.9,952.1 1381.0,955.8 1380.0,959.6 C1379.0,963.4 1377.7,967.2 1376.6,971.0 C1375.5,974.8 1374.5,978.6 1373.2,982.4 C1371.9,986.2 1370.1,990.0 1368.6,993.8 C1367.1,997.6 1365.5,1001.3 1364.1,1005.1 C1362.7,1008.9 1361.2,1012.7 1360.1,1016.5 C1359.0,1020.3 1358.1,1024.1 1357.3,1027.9 C1356.5,1031.7 1356.0,1035.6 1355.3,1039.5 C1354.6,1043.4 1353.8,1047.5 1353.3,1051.4 C1352.8,1055.3 1352.3,1059.0 1352.4,1062.8 C1352.5,1066.6 1353.2,1070.3 1353.9,1074.1 C1354.6,1077.9 1355.7,1081.7 1356.5,1085.5 C1357.3,1089.3 1358.2,1093.1 1359.0,1096.9 C1359.8,1100.7 1360.2,1104.5 1361.0,1108.3 C1361.8,1112.1 1362.8,1115.8 1364.1,1119.6 C1365.4,1123.4 1367.0,1127.2 1368.6,1131.0 C1370.2,1134.8 1372.4,1139.2 1373.8,1142.4 C1375.2,1145.6 1375.9,1147.4 1377.1,1150.0 C1378.3,1152.6 1379.9,1155.3 1381.1,1157.9 C1382.3,1160.5 1383.5,1163.2 1384.4,1165.8 C1385.3,1168.4 1386.1,1171.1 1386.7,1173.7 C1387.3,1176.3 1387.7,1179.0 1388.2,1181.6 C1388.6,1184.2 1388.9,1186.9 1389.4,1189.5 C1389.9,1192.1 1390.4,1194.8 1391.0,1197.4 C1391.6,1200.0 1392.2,1202.7 1393.0,1205.3 C1393.8,1207.9 1394.8,1210.6 1395.7,1213.2 C1396.5,1215.8 1397.2,1218.5 1398.1,1221.1 C1399.0,1223.7 1400.2,1226.4 1401.3,1229.0 C1402.3,1231.6 1403.5,1234.3 1404.4,1236.9 C1405.3,1239.5 1406.3,1243.2 1406.8,1244.8 C1407.3,1246.4 1407.1,1246.1 1407.2,1246.4 L1417.0,1246.4 C1417.1,1246.1 1416.9,1246.4 1417.4,1244.8 C1417.9,1243.2 1418.9,1239.5 1419.8,1236.9 C1420.7,1234.3 1421.8,1231.6 1422.9,1229.0 C1423.9,1226.4 1425.2,1223.7 1426.1,1221.1 C1427.0,1218.5 1427.7,1215.8 1428.5,1213.2 C1429.3,1210.6 1430.4,1207.9 1431.2,1205.3 C1432.0,1202.7 1432.6,1200.0 1433.2,1197.4 C1433.8,1194.8 1434.3,1192.1 1434.8,1189.5 C1435.3,1186.9 1435.5,1184.2 1436.0,1181.6 C1436.5,1179.0 1436.9,1176.3 1437.5,1173.7 C1438.1,1171.1 1438.9,1168.4 1439.8,1165.8 C1440.7,1163.2 1441.9,1160.5 1443.1,1157.9 C1444.3,1155.3 1445.9,1152.6 1447.1,1150.0 C1448.3,1147.4 1449.0,1145.6 1450.4,1142.4 C1451.8,1139.2 1454.0,1134.8 1455.6,1131.0 C1457.2,1127.2 1458.8,1123.4 1460.1,1119.6 C1461.4,1115.8 1462.3,1112.1 1463.2,1108.3 C1464.0,1104.5 1464.4,1100.7 1465.2,1096.9 C1465.9,1093.1 1466.8,1089.3 1467.7,1085.5 C1468.5,1081.7 1469.6,1077.9 1470.3,1074.1 C1471.0,1070.3 1471.7,1066.6 1471.8,1062.8 C1471.9,1059.0 1471.4,1055.3 1470.9,1051.4 C1470.4,1047.5 1469.6,1043.4 1468.9,1039.5 C1468.2,1035.6 1467.7,1031.7 1466.9,1027.9 C1466.1,1024.1 1465.2,1020.3 1464.1,1016.5 C1463.0,1012.7 1461.5,1008.9 1460.1,1005.1 C1458.7,1001.3 1457.1,997.6 1455.6,993.8 C1454.1,990.0 1452.3,986.2 1451.0,982.4 C1449.7,978.6 1448.7,974.8 1447.6,971.0 C1446.5,967.2 1445.2,963.4 1444.2,959.6 C1443.1,955.8 1442.2,952.1 1441.3,948.3 C1440.3,944.5 1439.5,940.7 1438.5,936.9 C1437.5,933.1 1436.3,929.3 1435.1,925.5 C1433.9,921.7 1432.3,917.9 1431.3,914.1 C1430.2,910.3 1429.5,906.6 1428.8,902.8 C1428.1,899.0 1427.6,895.1 1427.1,891.4 C1426.6,887.7 1426.3,884.1 1425.9,880.5 C1425.4,876.9 1424.9,873.6 1424.4,869.9 C1423.9,866.2 1423.5,862.3 1423.1,858.5 C1422.7,854.7 1422.2,850.9 1421.8,847.1 C1421.4,843.3 1421.0,839.6 1420.6,835.8 C1420.2,832.0 1419.9,828.2 1419.5,824.4 C1419.1,820.6 1418.7,816.8 1418.4,813.0 C1418.1,809.2 1417.8,805.4 1417.6,801.6 C1417.4,797.8 1417.2,794.1 1417.0,790.3 C1416.8,786.5 1416.8,782.7 1416.7,778.9 C1416.6,775.1 1416.4,771.3 1416.4,767.5 C1416.3,763.7 1416.3,759.9 1416.4,756.1 C1416.5,752.3 1416.8,748.6 1416.9,744.8 C1417.0,741.0 1417.1,735.3 1417.1,733.4 Z" fill="#d9d9d9" stroke="#333333" stroke-width="2.4" stroke-linejoin="round"/>
<line x1="1412.2" y1="803.9" x2="1412.2" y2="989.0" stroke="#333333" stroke-width="2.0"/>
<line x1="1412.2" y1="1111.9" x2="1412.2" y2="1246.4" stroke="#333333" stroke-width="2.0"/>
<rect x="1391.0" y="989.0" width="42.3" height="122.9" fill="#8c8c8c" stroke="#333333" stroke-width="2.4"/>
<line x1="1391.0" y1="1051.9" x2="1433.4" y2="1051.9" stroke="#333333" stroke-width="4"/>
<circle cx="1412.2" cy="733.4" r="5.3" fill="#333333" fill-opacity="0.8" stroke="#333333" stroke-width="0.8"/>
<circle cx="1412.2" cy="733.4" r="5.3" fill="#333333" fill-opacity="0.8" stroke="#333333" stroke-width="0.8"/>
<circle cx="1412.2" cy="733.4" r="5.3" fill="#333333" fill-opacity="0.8" stroke="#333333" stroke-width="0.8"/>
<circle cx="1412.2" cy="741.3" r="5.3" fill="#333333" fill-opacity="0.8" stroke="#333333" stroke-width="0.8"/>
<circle cx="1412.2" cy="773.2" r="5.3" fill="#333333" fill-opacity="0.8" stroke="#333333" stroke-width="0.8"/>
<circle cx="1412.2" cy="776.0" r="5.3" fill="#333333" fill-opacity="0.8" stroke="#333333" stroke-width="0.8"/>
<circle cx="1412.2" cy="780.0" r="5.3" fill="#333333" fill-opacity="0.8" stroke="#333333" stroke-width="0.8"/>
<circle cx="1412.2" cy="783.0" r="5.3" fill="#333333" fill-opacity="0.8" stroke="#333333" stroke-width="0.8"/>
<circle cx="1412.2" cy="786.8" r="5.3" fill="#333333" fill-opacity="0.8" stroke="#333333" stroke-width="0.8"/>
<circle cx="1412.2" cy="799.4" r="5.3" fill="#333333" fill-opacity="0.8" stroke="#333333" stroke-width="0.8"/>
<rect x="1403.7" y="1031.5" width="19" height="19" fill="#333333"/>
<text x="571.4" y="42.9" font-family="'Liberation Sans', Arial, sans-serif" font-size="30.2" fill="#333333" text-anchor="middle" >400ms</text>
<text x="1208.0" y="42.9" font-family="'Liberation Sans', Arial, sans-serif" font-size="30.2" fill="#333333" text-anchor="middle" >700ms</text>
<text x="0.0" y="0.0" font-family="'Liberation Sans', Arial, sans-serif" font-size="37.4" fill="#333333" text-anchor="middle" transform="translate(148.8,351.5) rotate(-90)">Estimate [ms]</text>
<text x="0.0" y="0.0" font-family="'Liberation Sans', Arial, sans-serif" font-size="37.4" fill="#333333" text-anchor="middle" transform="translate(145.1,997.7) rotate(-90)">Estimate [ms]</text>
<text x="888.9" y="1391.5" font-family="'Liberation Sans', Arial, sans-serif" font-size="37.4" fill="#333333" text-anchor="middle" >Story</text>
<text x="22.2" y="363.8" font-family="'Liberation Serif', 'Times New Roman', serif" font-size="41.5" fill="#000" text-anchor="start" >TD</text>
<text x="0.5" y="1021.8" font-family="'Liberation Serif', 'Times New Roman', serif" font-size="41.5" fill="#000" text-anchor="start" >ASD</text>
<text x="1573.0" y="648.0" font-family="'Liberation Sans', Arial, sans-serif" font-size="38.3" fill="#333333" text-anchor="start" >Agency</text>
<rect x="1518.5" y="672.5" width="40" height="40" fill="#fafafa" stroke="#333333" stroke-width="2"/>
<line x1="1538.5" y1="674.5" x2="1538.5" y2="710.5" stroke="#333333" stroke-width="3"/>
<rect x="1522.5" y="682.0" width="32" height="21" fill="#f2f2f2" stroke="#333333" stroke-width="2"/>
<line x1="1522.5" y1="692.5" x2="1554.5" y2="692.5" stroke="#333333" stroke-width="3.5"/>
<rect x="1518.5" y="714.5" width="40" height="40" fill="#d9d9d9" stroke="#333333" stroke-width="2"/>
<line x1="1538.5" y1="716.5" x2="1538.5" y2="752.5" stroke="#333333" stroke-width="3"/>
<rect x="1522.5" y="724.0" width="32" height="21" fill="#8c8c8c" stroke="#333333" stroke-width="2"/>
<line x1="1522.5" y1="734.5" x2="1554.5" y2="734.5" stroke="#333333" stroke-width="3.5"/>
<text x="1580.0" y="706.8" font-family="'Liberation Sans', Arial, sans-serif" font-size="38.3" fill="#333333" text-anchor="start" >Observant</text>
<text x="1580.0" y="749.0" font-family="'Liberation Sans', Arial, sans-serif" font-size="38.3" fill="#333333" text-anchor="start" >Operant</text>
</svg>
</body></html>
